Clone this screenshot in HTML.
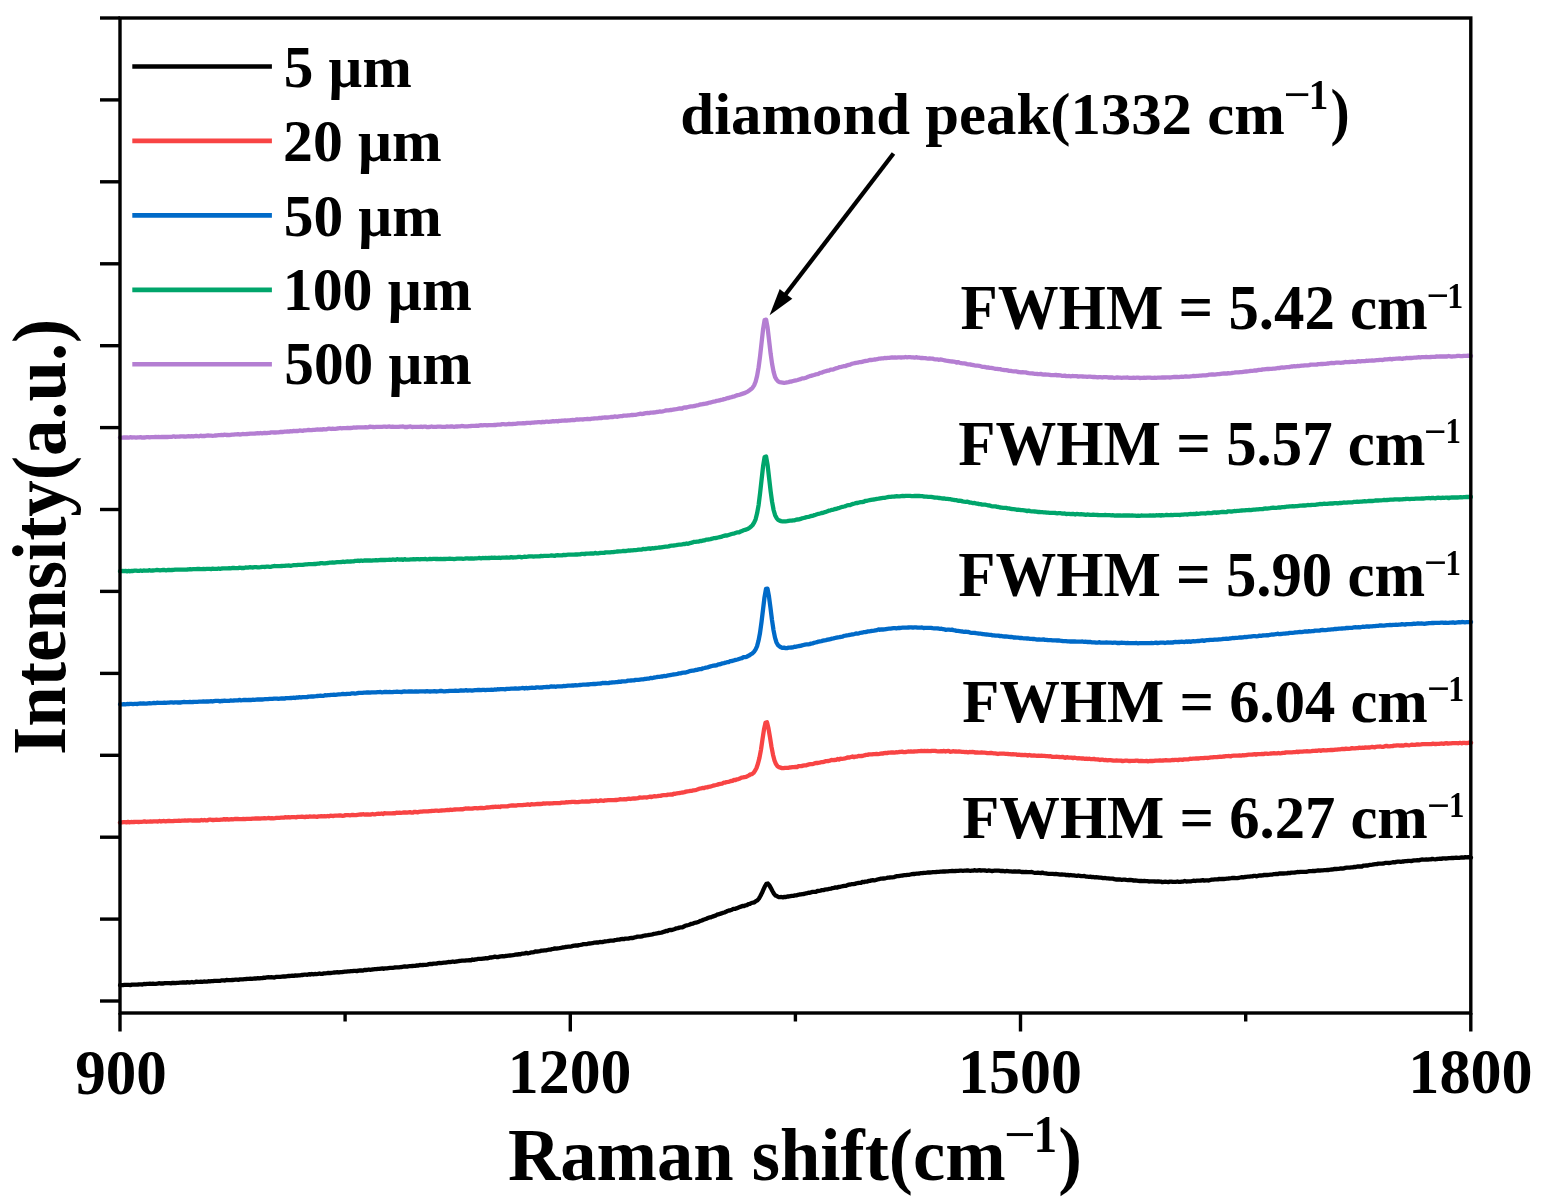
<!DOCTYPE html>
<html><head><meta charset="utf-8"><style>
html,body{margin:0;padding:0;background:#fff;}
svg{display:block;}
text{font-family:"Liberation Serif",serif;font-weight:bold;fill:#000;}
</style></head><body>
<svg width="1543" height="1204" viewBox="0 0 1543 1204">
<rect width="1543" height="1204" fill="#fff"/>
<g fill="none" stroke-width="4.3" stroke-linejoin="round" stroke-linecap="round">
<path d="M120.0,985.2 L121.4,985.2 L122.9,985.1 L124.4,984.9 L125.9,984.9 L127.4,984.8 L128.9,984.9 L130.4,985.1 L131.9,984.7 L133.4,984.6 L134.9,984.7 L136.4,984.6 L137.9,984.5 L139.4,984.3 L140.9,984.4 L142.4,984.5 L143.9,984.0 L145.4,984.1 L146.9,983.8 L148.4,983.9 L149.9,983.7 L151.4,983.9 L152.9,983.7 L154.4,983.9 L155.9,983.8 L157.4,983.7 L158.9,983.2 L160.4,983.5 L161.9,983.5 L163.4,983.5 L164.9,983.1 L166.4,983.2 L167.9,983.1 L169.4,983.1 L170.9,983.3 L172.4,982.9 L173.9,983.0 L175.4,983.1 L176.9,982.8 L178.4,982.8 L179.9,982.7 L181.4,982.7 L182.9,982.4 L184.4,982.5 L185.9,982.7 L187.4,982.1 L188.9,982.5 L190.4,982.3 L191.9,982.0 L193.4,982.4 L194.9,982.1 L196.4,981.7 L197.9,981.9 L199.4,981.9 L200.9,981.7 L202.4,981.8 L203.9,981.5 L205.4,981.6 L206.9,981.7 L208.4,981.2 L209.9,981.3 L211.4,981.1 L212.9,981.1 L214.4,980.8 L215.9,980.8 L217.4,980.8 L218.9,980.9 L220.4,980.8 L221.9,980.3 L223.4,980.3 L224.9,980.5 L226.4,979.9 L227.9,980.1 L229.4,980.1 L230.9,980.2 L232.4,980.0 L233.9,979.8 L235.4,979.7 L236.9,979.6 L238.4,979.8 L239.9,979.4 L241.4,979.3 L242.9,979.3 L244.4,979.1 L245.9,979.0 L247.4,978.8 L248.9,978.9 L250.4,978.7 L251.9,978.9 L253.4,978.7 L254.9,978.5 L256.4,978.5 L257.9,978.2 L259.4,978.4 L260.9,978.1 L262.4,978.1 L263.9,977.6 L265.4,977.8 L266.9,977.3 L268.4,977.2 L269.9,977.4 L271.4,977.2 L272.9,977.3 L274.4,977.5 L275.9,976.9 L277.4,976.8 L278.9,976.8 L280.4,976.8 L281.9,976.6 L283.4,976.4 L284.9,976.5 L286.4,976.4 L287.9,976.0 L289.4,976.0 L290.9,975.9 L292.4,975.6 L293.9,975.8 L295.4,975.4 L296.9,975.7 L298.4,975.4 L299.9,975.3 L301.4,975.0 L302.9,975.0 L304.4,974.6 L305.9,974.6 L307.4,974.8 L308.9,974.2 L310.4,974.6 L311.9,974.0 L313.4,974.4 L314.9,974.0 L316.4,974.2 L317.9,973.9 L319.4,973.5 L320.9,973.9 L322.4,973.8 L323.9,973.4 L325.4,973.3 L326.9,973.2 L328.4,972.9 L329.9,973.2 L331.4,972.8 L332.9,972.7 L334.4,972.5 L335.9,972.4 L337.4,972.2 L338.9,972.5 L340.4,972.1 L341.9,972.2 L343.4,971.9 L344.9,971.7 L346.4,971.6 L347.9,971.4 L349.4,971.4 L350.9,971.2 L352.4,971.1 L353.9,970.8 L355.4,970.8 L356.9,971.1 L358.4,970.6 L359.9,970.4 L361.4,970.5 L362.9,970.6 L364.4,969.9 L365.9,970.0 L367.4,969.8 L368.9,969.5 L370.4,969.8 L371.9,969.5 L373.4,969.4 L374.9,969.2 L376.4,969.2 L377.9,968.9 L379.4,968.9 L380.9,968.6 L382.4,968.4 L383.9,968.8 L385.4,968.3 L386.9,968.3 L388.4,968.1 L389.9,967.9 L391.4,967.8 L392.9,967.8 L394.4,967.5 L395.9,967.4 L397.4,967.3 L398.9,967.4 L400.4,967.2 L401.9,967.0 L403.4,966.7 L404.9,966.4 L406.4,966.6 L407.9,966.5 L409.4,966.2 L410.9,966.1 L412.4,966.0 L413.9,965.9 L415.4,965.8 L416.9,965.4 L418.4,965.6 L419.9,965.0 L421.4,965.2 L422.9,965.0 L424.4,964.9 L425.9,964.9 L427.4,964.7 L428.9,964.1 L430.4,963.8 L431.9,964.1 L433.4,963.7 L434.9,963.7 L436.4,963.7 L437.9,963.1 L439.4,962.9 L440.9,963.1 L442.4,962.9 L443.9,962.7 L445.4,962.6 L446.9,962.3 L448.4,962.0 L449.9,962.1 L451.4,961.8 L452.9,961.5 L454.4,961.8 L455.9,961.5 L457.4,961.4 L458.9,961.0 L460.4,960.9 L461.9,960.7 L463.4,960.6 L464.9,960.6 L466.4,960.3 L467.9,960.3 L469.4,960.1 L470.9,960.3 L472.4,959.5 L473.9,959.8 L475.4,959.4 L476.9,959.3 L478.4,958.8 L479.9,958.9 L481.4,958.9 L482.9,958.6 L484.4,958.5 L485.9,958.2 L487.4,958.3 L488.9,957.9 L490.4,957.4 L491.9,957.5 L493.4,957.1 L494.9,956.7 L496.4,957.0 L497.9,957.1 L499.4,956.7 L500.9,956.3 L502.4,956.2 L503.9,956.4 L505.4,956.0 L506.9,955.8 L508.4,955.6 L509.9,955.5 L511.4,955.4 L512.9,955.2 L514.4,954.9 L515.9,954.5 L517.4,954.6 L518.9,954.1 L520.4,954.3 L521.9,953.6 L523.4,953.6 L524.9,953.4 L526.4,952.9 L527.9,953.3 L529.4,953.0 L530.9,952.4 L532.4,952.4 L533.9,952.1 L535.4,951.3 L536.9,951.6 L538.4,951.3 L539.9,951.1 L541.4,950.7 L542.9,950.6 L544.4,950.4 L545.9,950.4 L547.4,950.0 L548.9,949.7 L550.4,949.7 L551.9,949.1 L553.4,948.9 L554.9,948.4 L556.4,948.7 L557.9,948.4 L559.4,948.2 L560.9,947.9 L562.4,947.5 L563.9,947.3 L565.4,947.0 L566.9,946.8 L568.4,946.6 L569.9,946.6 L571.4,946.3 L572.9,945.9 L574.4,945.6 L575.9,945.4 L577.4,945.6 L578.9,945.1 L580.4,944.9 L581.9,944.6 L583.4,944.2 L584.9,944.2 L586.4,944.2 L587.9,943.7 L589.4,943.5 L590.9,943.3 L592.4,943.2 L593.9,942.7 L595.4,942.7 L596.9,942.4 L598.4,942.5 L599.9,942.0 L601.4,942.1 L602.9,942.0 L604.4,941.5 L605.9,941.3 L607.4,941.2 L608.9,941.0 L610.4,940.6 L611.9,940.7 L613.4,940.7 L614.9,940.1 L616.4,939.9 L617.9,939.6 L619.4,939.6 L620.9,939.2 L622.4,939.0 L623.9,939.2 L625.4,938.6 L626.9,938.7 L628.4,938.6 L629.9,938.2 L631.4,938.0 L632.9,938.0 L634.4,937.4 L635.9,937.1 L637.4,936.7 L638.9,936.7 L640.4,936.7 L641.9,936.4 L643.4,935.8 L644.9,935.5 L646.4,935.3 L647.9,935.2 L649.4,934.8 L650.9,934.6 L652.4,934.3 L653.9,933.9 L655.4,933.7 L656.9,933.4 L658.4,933.0 L659.9,932.8 L661.4,932.7 L662.9,932.1 L664.4,931.7 L665.9,931.0 L667.4,931.0 L668.9,930.2 L670.4,929.9 L671.9,930.0 L673.4,929.5 L674.9,929.0 L676.4,928.3 L677.9,928.1 L679.4,927.6 L680.9,927.4 L682.4,927.3 L683.9,926.5 L685.4,925.8 L686.9,925.3 L688.4,925.0 L689.9,924.5 L691.4,923.8 L692.9,923.6 L694.4,922.8 L695.9,922.7 L697.4,922.2 L698.9,921.7 L700.4,920.9 L701.9,920.5 L703.4,919.8 L704.9,919.3 L706.4,918.7 L707.9,918.0 L709.4,917.4 L710.9,917.3 L712.4,916.6 L713.9,916.1 L715.4,915.7 L716.9,914.7 L718.4,914.3 L719.9,913.9 L721.4,913.4 L722.9,912.8 L724.4,912.5 L725.9,911.8 L727.4,911.0 L728.9,910.5 L730.4,910.3 L731.9,909.8 L733.4,908.8 L734.9,908.9 L736.4,908.3 L737.9,907.9 L739.4,907.1 L740.9,906.7 L742.4,906.0 L743.9,906.2 L745.4,905.3 L746.9,905.1 L748.4,904.2 L749.9,903.9 L751.4,903.0 L752.9,902.7 L754.4,902.3 L755.9,901.1 L757.4,900.3 L758.9,898.6 L760.4,896.0 L761.9,893.1 L763.4,889.6 L764.9,886.3 L766.4,883.8 L767.9,883.5 L769.4,885.4 L770.9,888.1 L772.4,891.0 L773.9,893.6 L775.4,895.5 L776.9,896.1 L778.4,897.0 L779.9,897.1 L781.4,897.0 L782.9,897.3 L784.4,896.9 L785.9,897.1 L787.4,896.5 L788.9,896.5 L790.4,896.1 L791.9,895.8 L793.4,895.8 L794.9,895.4 L796.4,895.3 L797.9,894.9 L799.4,894.5 L800.9,894.4 L802.4,894.1 L803.9,894.0 L805.4,893.4 L806.9,893.3 L808.4,892.7 L809.9,892.8 L811.4,892.2 L812.9,891.8 L814.4,891.9 L815.9,891.8 L817.4,891.0 L818.9,890.8 L820.4,890.6 L821.9,890.2 L823.4,890.2 L824.9,889.6 L826.4,889.4 L827.9,889.3 L829.4,888.8 L830.9,888.7 L832.4,888.1 L833.9,887.8 L835.4,887.4 L836.9,887.7 L838.4,887.0 L839.9,886.8 L841.4,886.5 L842.9,886.2 L844.4,885.9 L845.9,885.9 L847.4,885.1 L848.9,884.7 L850.4,884.5 L851.9,884.2 L853.4,884.2 L854.9,883.9 L856.4,883.3 L857.9,883.0 L859.4,882.9 L860.9,882.9 L862.4,881.8 L863.9,882.2 L865.4,881.6 L866.9,881.7 L868.4,881.0 L869.9,880.9 L871.4,880.4 L872.9,880.2 L874.4,880.4 L875.9,880.0 L877.4,879.5 L878.9,879.2 L880.4,878.7 L881.9,878.7 L883.4,878.5 L884.9,878.3 L886.4,878.0 L887.9,877.6 L889.4,877.5 L890.9,877.3 L892.4,877.3 L893.9,877.2 L895.4,876.6 L896.9,876.2 L898.4,876.1 L899.9,875.8 L901.4,875.6 L902.9,875.5 L904.4,875.1 L905.9,875.2 L907.4,874.9 L908.9,874.8 L910.4,874.5 L911.9,874.2 L913.4,874.0 L914.9,874.0 L916.4,873.7 L917.9,873.7 L919.4,873.5 L920.9,873.1 L922.4,873.2 L923.9,872.8 L925.4,872.8 L926.9,872.7 L928.4,872.3 L929.9,872.5 L931.4,872.4 L932.9,872.2 L934.4,872.1 L935.9,872.0 L937.4,871.8 L938.9,871.8 L940.4,871.6 L941.9,871.6 L943.4,871.3 L944.9,871.5 L946.4,871.4 L947.9,871.3 L949.4,871.1 L950.9,871.2 L952.4,870.8 L953.9,871.1 L955.4,871.0 L956.9,870.9 L958.4,870.9 L959.9,870.7 L961.4,870.7 L962.9,870.8 L964.4,870.7 L965.9,870.7 L967.4,870.3 L968.9,870.7 L970.4,870.8 L971.9,870.7 L973.4,870.6 L974.9,870.2 L976.4,870.7 L977.9,870.5 L979.4,870.1 L980.9,870.6 L982.4,870.3 L983.9,870.3 L985.4,870.5 L986.9,870.8 L988.4,870.5 L989.9,870.7 L991.4,871.0 L992.9,871.0 L994.4,870.7 L995.9,870.7 L997.4,870.6 L998.9,870.7 L1000.4,871.0 L1001.9,871.0 L1003.4,871.0 L1004.9,871.3 L1006.4,871.0 L1007.9,871.2 L1009.4,871.4 L1010.9,871.4 L1012.4,871.6 L1013.9,871.5 L1015.4,871.5 L1016.9,871.7 L1018.4,871.5 L1019.9,871.5 L1021.4,872.0 L1022.9,871.9 L1024.3,872.1 L1025.8,871.8 L1027.3,872.1 L1028.8,872.2 L1030.3,872.2 L1031.8,872.0 L1033.3,872.5 L1034.8,872.8 L1036.3,872.8 L1037.8,872.7 L1039.3,872.9 L1040.8,873.1 L1042.3,872.6 L1043.8,873.2 L1045.3,873.4 L1046.8,873.5 L1048.3,873.8 L1049.8,873.8 L1051.3,873.8 L1052.8,873.9 L1054.3,874.1 L1055.8,873.9 L1057.3,874.1 L1058.8,874.4 L1060.3,874.7 L1061.8,874.4 L1063.3,874.6 L1064.8,874.7 L1066.3,875.1 L1067.8,874.9 L1069.3,875.3 L1070.8,875.0 L1072.3,875.3 L1073.8,875.4 L1075.3,875.7 L1076.8,875.9 L1078.3,875.5 L1079.8,875.8 L1081.3,876.1 L1082.8,876.1 L1084.3,876.0 L1085.8,876.6 L1087.3,876.7 L1088.8,876.8 L1090.3,876.7 L1091.8,877.1 L1093.3,877.0 L1094.8,877.4 L1096.3,877.2 L1097.8,877.3 L1099.3,877.7 L1100.8,877.6 L1102.3,878.0 L1103.8,878.1 L1105.3,878.0 L1106.8,878.3 L1108.3,878.3 L1109.8,878.7 L1111.3,878.6 L1112.8,878.7 L1114.3,879.1 L1115.8,879.5 L1117.3,879.5 L1118.8,879.3 L1120.3,879.5 L1121.8,879.8 L1123.3,879.7 L1124.8,879.6 L1126.3,879.9 L1127.8,880.1 L1129.3,880.0 L1130.8,880.0 L1132.3,880.1 L1133.8,880.6 L1135.3,880.4 L1136.8,880.6 L1138.3,880.8 L1139.8,881.0 L1141.3,880.9 L1142.8,881.1 L1144.3,880.9 L1145.8,881.1 L1147.3,881.1 L1148.8,881.5 L1150.3,881.4 L1151.8,881.3 L1153.3,881.4 L1154.8,881.5 L1156.3,881.7 L1157.8,881.3 L1159.3,881.5 L1160.8,881.6 L1162.3,882.2 L1163.8,881.9 L1165.3,881.7 L1166.8,881.9 L1168.3,882.1 L1169.8,881.7 L1171.3,881.6 L1172.8,881.9 L1174.3,881.8 L1175.8,881.8 L1177.3,881.5 L1178.8,881.9 L1180.3,881.9 L1181.8,881.6 L1183.3,881.6 L1184.8,881.0 L1186.3,881.5 L1187.8,881.3 L1189.3,881.3 L1190.8,881.3 L1192.3,881.0 L1193.8,880.7 L1195.3,881.0 L1196.8,880.7 L1198.3,880.7 L1199.8,880.6 L1201.3,880.5 L1202.8,880.1 L1204.3,880.6 L1205.8,880.4 L1207.3,880.4 L1208.8,880.5 L1210.3,880.0 L1211.8,879.6 L1213.3,879.6 L1214.8,879.4 L1216.3,879.4 L1217.8,879.4 L1219.3,878.9 L1220.8,879.2 L1222.3,878.8 L1223.8,879.0 L1225.3,878.8 L1226.8,878.6 L1228.3,878.5 L1229.8,878.3 L1231.3,878.1 L1232.8,877.8 L1234.3,878.0 L1235.8,878.2 L1237.3,878.1 L1238.8,877.8 L1240.3,877.5 L1241.8,877.2 L1243.3,877.4 L1244.8,877.0 L1246.3,876.8 L1247.8,876.7 L1249.3,876.6 L1250.8,876.3 L1252.3,876.3 L1253.8,875.9 L1255.3,875.9 L1256.8,876.3 L1258.3,875.7 L1259.8,875.5 L1261.3,875.5 L1262.8,875.4 L1264.3,874.9 L1265.8,875.0 L1267.3,875.0 L1268.8,874.8 L1270.3,874.6 L1271.8,874.7 L1273.3,874.2 L1274.8,874.2 L1276.3,873.9 L1277.8,874.2 L1279.3,873.4 L1280.8,873.5 L1282.3,873.4 L1283.8,873.5 L1285.3,873.4 L1286.8,873.4 L1288.3,872.8 L1289.8,873.1 L1291.3,872.7 L1292.8,872.6 L1294.3,872.7 L1295.8,872.3 L1297.3,872.0 L1298.8,872.1 L1300.3,871.8 L1301.8,871.9 L1303.3,871.9 L1304.8,871.8 L1306.3,871.9 L1307.8,871.5 L1309.3,871.1 L1310.8,871.1 L1312.3,871.0 L1313.8,870.8 L1315.3,871.0 L1316.8,870.7 L1318.3,870.3 L1319.8,870.7 L1321.3,870.4 L1322.8,870.3 L1324.3,870.2 L1325.8,870.1 L1327.3,869.9 L1328.8,870.0 L1330.3,869.7 L1331.8,869.5 L1333.3,869.4 L1334.8,868.9 L1336.3,869.0 L1337.8,868.8 L1339.3,868.8 L1340.8,868.3 L1342.3,868.7 L1343.8,868.3 L1345.3,867.9 L1346.8,867.6 L1348.3,867.7 L1349.8,867.6 L1351.3,867.3 L1352.8,867.3 L1354.3,866.9 L1355.8,867.0 L1357.3,866.5 L1358.8,866.5 L1360.3,866.5 L1361.8,866.6 L1363.3,865.7 L1364.8,865.6 L1366.3,865.4 L1367.8,865.5 L1369.3,864.9 L1370.8,864.9 L1372.3,864.7 L1373.8,864.4 L1375.3,864.2 L1376.8,864.1 L1378.3,863.6 L1379.8,863.6 L1381.3,863.6 L1382.8,863.5 L1384.3,863.3 L1385.8,862.8 L1387.3,862.9 L1388.8,863.0 L1390.3,862.8 L1391.8,862.5 L1393.3,862.2 L1394.8,862.3 L1396.3,861.9 L1397.8,861.7 L1399.3,861.6 L1400.8,861.9 L1402.3,861.5 L1403.8,861.5 L1405.3,861.1 L1406.8,861.2 L1408.3,860.8 L1409.8,860.8 L1411.3,861.1 L1412.8,860.7 L1414.3,860.3 L1415.8,860.3 L1417.3,860.2 L1418.8,860.3 L1420.3,859.9 L1421.8,859.5 L1423.3,859.7 L1424.8,859.6 L1426.3,859.5 L1427.8,859.7 L1429.3,859.4 L1430.8,859.4 L1432.3,858.9 L1433.8,859.2 L1435.3,859.3 L1436.8,859.0 L1438.3,858.8 L1439.8,858.7 L1441.3,858.9 L1442.8,858.4 L1444.3,858.4 L1445.8,858.5 L1447.3,858.4 L1448.8,858.1 L1450.3,858.2 L1451.8,858.0 L1453.3,858.0 L1454.8,857.9 L1456.3,857.6 L1457.8,857.8 L1459.3,857.9 L1460.8,857.5 L1462.3,857.5 L1463.8,857.6 L1465.3,857.2 L1466.8,857.4 L1468.3,857.1 L1469.8,857.4 L1471.0,857.6" stroke="#000000"/>
<path d="M120.0,822.7 L120.5,822.3 L122.0,822.4 L123.5,822.2 L125.0,822.2 L126.5,822.4 L128.0,821.9 L129.5,822.3 L131.0,822.0 L132.5,822.2 L134.0,822.0 L135.5,821.8 L137.0,821.9 L138.5,822.0 L140.0,821.8 L141.5,821.8 L143.0,821.6 L144.5,821.3 L146.0,821.8 L147.5,821.7 L149.0,821.6 L150.5,821.5 L152.0,821.7 L153.5,821.4 L155.0,821.3 L156.5,821.3 L158.0,821.5 L159.5,821.0 L161.0,821.5 L162.5,821.1 L164.0,821.0 L165.5,821.4 L167.0,821.1 L168.5,820.8 L170.0,821.0 L171.5,821.1 L173.0,821.2 L174.5,820.8 L176.0,820.9 L177.5,820.9 L179.0,820.7 L180.5,820.8 L182.0,820.7 L183.5,820.6 L185.0,820.5 L186.5,820.6 L188.0,820.5 L189.5,820.4 L191.0,820.4 L192.5,820.6 L194.0,820.4 L195.5,820.5 L197.0,820.5 L198.5,820.4 L200.0,820.6 L201.5,820.0 L203.0,820.3 L204.5,820.0 L206.0,820.4 L207.5,820.3 L209.0,819.6 L210.5,819.7 L212.0,820.0 L213.5,820.0 L215.0,819.9 L216.5,819.7 L218.0,819.8 L219.5,819.8 L221.0,819.6 L222.5,819.7 L224.0,819.1 L225.5,819.6 L227.0,819.2 L228.5,819.6 L230.0,819.3 L231.5,819.1 L233.0,819.3 L234.5,819.0 L236.0,819.0 L237.5,818.8 L239.0,819.1 L240.5,819.1 L242.0,819.2 L243.5,818.9 L245.0,819.1 L246.5,818.8 L248.0,818.8 L249.5,818.8 L251.0,818.9 L252.5,818.6 L254.0,818.6 L255.5,818.5 L257.0,818.5 L258.5,818.3 L260.0,818.6 L261.5,818.3 L263.0,818.4 L264.5,818.1 L266.0,818.3 L267.5,818.2 L269.0,818.0 L270.5,818.4 L272.0,818.1 L273.5,818.3 L275.0,818.1 L276.5,817.8 L278.0,817.8 L279.5,817.8 L281.0,817.7 L282.5,817.7 L284.0,817.6 L285.5,817.2 L287.0,817.5 L288.5,817.1 L290.0,817.5 L291.5,817.2 L293.0,817.2 L294.5,817.2 L296.0,817.3 L297.5,816.9 L299.0,816.8 L300.5,816.9 L302.0,816.6 L303.5,816.8 L305.0,817.2 L306.5,816.6 L308.0,816.9 L309.5,816.5 L311.0,816.7 L312.5,816.6 L314.0,816.5 L315.5,816.6 L317.0,816.8 L318.5,816.4 L320.0,816.4 L321.5,816.1 L323.0,816.3 L324.5,816.1 L326.0,816.3 L327.5,816.0 L329.0,816.3 L330.5,815.6 L332.0,815.8 L333.5,816.0 L335.0,815.7 L336.5,815.6 L338.0,815.6 L339.5,815.3 L341.0,815.5 L342.5,815.9 L344.0,815.6 L345.5,815.1 L347.0,815.1 L348.5,815.2 L350.0,815.3 L351.5,815.0 L353.0,814.9 L354.5,815.1 L356.0,815.1 L357.5,814.8 L359.0,814.6 L360.5,814.4 L362.0,814.5 L363.5,814.2 L365.0,814.7 L366.5,814.3 L368.0,814.5 L369.5,814.7 L371.0,814.5 L372.5,814.0 L374.0,814.3 L375.5,814.3 L377.0,813.8 L378.5,813.7 L380.0,813.8 L381.5,813.5 L383.0,814.0 L384.5,813.2 L386.0,813.3 L387.5,813.4 L389.0,813.4 L390.5,813.4 L392.0,813.3 L393.5,813.1 L395.0,813.3 L396.5,812.6 L398.0,812.9 L399.5,812.7 L401.0,812.8 L402.5,812.7 L404.0,812.5 L405.5,812.4 L407.0,812.6 L408.5,812.4 L410.0,812.2 L411.5,812.6 L413.0,812.5 L414.5,811.8 L416.0,812.0 L417.5,812.3 L419.0,811.9 L420.5,811.7 L422.0,811.6 L423.5,811.4 L425.0,811.4 L426.5,811.3 L428.0,811.4 L429.5,811.1 L431.0,811.0 L432.5,810.8 L434.0,810.9 L435.5,810.7 L437.0,810.7 L438.5,810.8 L440.0,810.6 L441.5,810.5 L443.0,810.4 L444.5,810.3 L446.0,810.1 L447.5,810.0 L449.0,810.1 L450.5,809.7 L452.0,810.0 L453.5,809.7 L455.0,809.5 L456.5,809.4 L458.0,809.3 L459.5,809.3 L461.0,809.1 L462.5,809.3 L464.0,808.9 L465.5,808.5 L467.0,808.7 L468.5,808.4 L470.0,808.6 L471.5,808.7 L473.0,808.5 L474.5,808.1 L476.0,808.1 L477.5,808.4 L479.0,808.1 L480.5,807.9 L482.0,808.0 L483.5,808.2 L485.0,807.9 L486.5,807.5 L488.0,807.5 L489.5,807.4 L491.0,807.1 L492.5,806.9 L494.0,807.0 L495.5,806.7 L497.0,806.8 L498.5,806.7 L500.0,807.0 L501.5,806.3 L503.0,806.4 L504.5,806.3 L506.0,806.3 L507.5,806.3 L509.0,805.9 L510.5,805.7 L512.0,805.5 L513.5,805.5 L515.0,805.7 L516.5,805.5 L518.0,805.2 L519.5,805.2 L521.0,805.2 L522.5,805.2 L524.0,804.9 L525.5,804.9 L527.0,804.5 L528.5,804.5 L530.0,804.9 L531.5,804.1 L533.0,804.4 L534.5,804.4 L536.0,804.2 L537.5,804.0 L539.0,804.0 L540.5,804.0 L542.0,803.8 L543.5,803.4 L545.0,803.7 L546.5,803.4 L548.0,803.4 L549.5,803.5 L551.0,803.4 L552.5,803.4 L554.0,803.1 L555.5,803.2 L557.0,803.2 L558.5,803.1 L560.0,803.1 L561.5,802.7 L563.0,802.6 L564.5,802.7 L566.0,802.2 L567.5,802.4 L569.0,802.2 L570.5,802.2 L572.0,801.9 L573.5,801.9 L575.0,802.0 L576.5,802.1 L578.0,802.1 L579.5,801.8 L581.0,801.7 L582.5,801.5 L584.0,801.6 L585.5,801.5 L587.0,801.5 L588.5,801.7 L590.0,801.3 L591.5,800.9 L593.0,801.0 L594.5,800.8 L596.0,800.7 L597.5,801.1 L599.0,800.8 L600.5,800.4 L602.0,800.7 L603.5,800.8 L605.0,800.4 L606.5,800.3 L608.0,800.2 L609.5,800.2 L611.0,800.2 L612.5,800.2 L614.0,800.1 L615.5,800.0 L617.0,800.0 L618.5,799.7 L620.0,799.2 L621.5,799.4 L623.0,799.4 L624.5,799.1 L626.0,799.3 L627.5,798.9 L629.0,798.7 L630.5,799.0 L632.0,798.7 L633.5,798.5 L635.0,798.5 L636.5,798.4 L638.0,798.2 L639.5,797.5 L641.0,797.7 L642.5,797.6 L644.0,797.4 L645.5,797.4 L647.0,797.5 L648.5,797.0 L650.0,796.7 L651.5,797.1 L653.0,796.5 L654.5,796.2 L656.0,796.3 L657.5,796.2 L659.0,795.8 L660.5,795.9 L662.0,795.4 L663.5,795.2 L665.0,795.2 L666.5,795.1 L668.0,794.6 L669.5,794.6 L671.0,794.3 L672.5,794.6 L674.0,793.7 L675.5,793.8 L677.0,793.3 L678.5,793.1 L680.0,793.0 L681.5,792.7 L683.0,792.5 L684.5,792.1 L686.0,791.6 L687.5,791.3 L689.0,791.2 L690.5,790.9 L692.0,790.8 L693.5,790.3 L695.0,790.1 L696.5,789.8 L698.0,789.3 L699.5,788.6 L701.0,788.4 L702.5,788.0 L704.0,788.2 L705.5,787.4 L707.0,787.4 L708.5,786.9 L710.0,786.7 L711.5,786.2 L713.0,785.7 L714.5,785.3 L716.0,785.0 L717.5,784.6 L719.0,784.1 L720.5,783.8 L722.0,783.7 L723.5,782.7 L725.0,782.7 L726.5,782.1 L728.0,781.9 L729.5,781.6 L731.0,781.0 L732.5,780.8 L734.0,779.9 L735.5,780.0 L737.0,779.3 L738.5,779.1 L740.0,778.5 L741.5,777.6 L743.0,777.4 L744.5,777.1 L746.0,776.9 L747.5,776.1 L749.0,775.4 L750.5,774.4 L752.0,774.1 L753.5,772.9 L755.0,770.8 L756.5,768.0 L758.0,763.5 L759.5,757.6 L761.0,749.6 L762.5,739.2 L764.0,729.5 L765.5,722.8 L767.0,722.2 L768.5,728.6 L770.0,737.3 L771.5,746.9 L773.0,754.7 L774.5,760.5 L776.0,764.1 L777.5,766.2 L779.0,767.2 L780.5,767.6 L782.0,768.1 L783.5,768.1 L785.0,767.9 L786.5,767.9 L788.0,767.9 L789.5,767.5 L791.0,767.4 L792.5,767.1 L794.0,767.2 L795.5,767.0 L797.0,767.1 L798.5,766.2 L800.0,766.1 L801.5,766.1 L803.0,765.6 L804.5,765.3 L806.0,765.4 L807.5,764.8 L809.0,764.4 L810.5,764.1 L812.0,764.1 L813.5,763.8 L815.0,763.2 L816.5,763.0 L818.0,763.0 L819.5,762.7 L821.0,762.2 L822.5,762.2 L824.0,761.9 L825.5,761.2 L827.0,761.2 L828.5,761.0 L830.0,760.6 L831.5,760.0 L833.0,760.1 L834.5,760.0 L836.0,759.9 L837.5,759.0 L839.0,759.6 L840.5,758.7 L842.0,758.8 L843.5,758.6 L845.0,758.3 L846.5,757.9 L848.0,757.4 L849.5,757.5 L851.0,757.0 L852.5,756.5 L854.0,757.2 L855.5,756.6 L857.0,756.6 L858.5,755.9 L860.0,756.2 L861.5,756.0 L863.0,755.8 L864.5,755.3 L866.0,754.9 L867.5,754.9 L869.0,754.4 L870.5,754.3 L872.0,754.4 L873.5,754.1 L875.0,754.1 L876.5,753.9 L878.0,754.1 L879.5,753.9 L881.0,753.5 L882.5,753.6 L884.0,753.1 L885.5,753.0 L887.0,753.1 L888.5,752.6 L890.0,752.7 L891.5,752.4 L893.0,752.5 L894.5,752.7 L896.0,752.2 L897.5,752.3 L899.0,752.0 L900.5,751.8 L902.0,751.7 L903.5,752.1 L905.0,752.2 L906.5,751.8 L908.0,751.5 L909.5,751.7 L911.0,751.5 L912.5,751.6 L914.0,751.5 L915.5,751.4 L917.0,751.4 L918.5,751.2 L920.0,751.2 L921.5,750.9 L923.0,751.1 L924.5,750.9 L926.0,751.1 L927.5,750.9 L929.0,751.1 L930.5,751.2 L932.0,750.8 L933.5,750.9 L935.0,750.9 L936.5,751.2 L938.0,751.4 L939.5,751.3 L941.0,751.1 L942.5,751.4 L944.0,750.9 L945.5,751.5 L947.0,751.1 L948.5,750.8 L950.0,751.8 L951.5,751.7 L953.0,751.2 L954.5,751.5 L956.0,751.5 L957.5,751.6 L959.0,751.4 L960.5,751.6 L962.0,751.8 L963.5,751.9 L965.0,752.1 L966.5,752.0 L968.0,752.4 L969.5,752.0 L971.0,752.2 L972.5,751.9 L974.0,752.1 L975.5,752.6 L977.0,752.3 L978.5,752.6 L980.0,752.6 L981.5,752.5 L983.0,752.7 L984.5,752.7 L986.0,752.8 L987.5,753.1 L989.0,753.2 L990.5,753.0 L992.0,753.0 L993.5,753.3 L995.0,753.3 L996.5,753.6 L998.0,754.0 L999.5,753.7 L1001.0,753.7 L1002.5,753.7 L1004.0,753.7 L1005.5,753.8 L1007.0,753.8 L1008.5,754.0 L1010.0,754.1 L1011.5,754.4 L1013.0,754.2 L1014.5,754.4 L1016.0,754.3 L1017.5,754.9 L1019.0,754.7 L1020.5,755.0 L1022.0,754.9 L1023.5,755.2 L1025.0,754.9 L1026.5,755.2 L1028.0,755.6 L1029.5,755.0 L1031.0,755.5 L1032.5,755.7 L1034.0,755.5 L1035.5,755.7 L1037.0,755.9 L1038.5,755.6 L1040.0,755.9 L1041.5,755.7 L1043.0,755.8 L1044.5,755.9 L1046.0,756.1 L1047.5,756.2 L1049.0,756.4 L1050.5,756.1 L1052.0,756.8 L1053.5,756.8 L1055.0,756.8 L1056.5,756.7 L1058.0,756.8 L1059.5,757.0 L1061.0,757.1 L1062.5,756.8 L1064.0,757.4 L1065.5,757.8 L1067.0,757.1 L1068.5,757.7 L1070.0,757.7 L1071.5,757.7 L1073.0,758.1 L1074.5,757.7 L1076.0,758.0 L1077.5,758.4 L1079.0,758.2 L1080.5,758.3 L1082.0,758.5 L1083.5,758.5 L1085.0,758.9 L1086.5,758.6 L1088.0,759.0 L1089.5,758.7 L1091.0,759.2 L1092.5,759.2 L1094.0,758.8 L1095.5,759.4 L1097.0,759.3 L1098.5,759.5 L1100.0,760.0 L1101.5,759.6 L1103.0,759.7 L1104.5,760.2 L1106.0,760.0 L1107.5,760.4 L1109.0,760.2 L1110.5,760.1 L1112.0,760.3 L1113.5,760.6 L1115.0,760.6 L1116.5,760.5 L1118.0,760.6 L1119.5,760.6 L1121.0,760.6 L1122.5,761.1 L1124.0,760.8 L1125.5,760.6 L1127.0,760.7 L1128.5,761.0 L1130.0,761.0 L1131.5,760.9 L1133.0,760.8 L1134.5,760.9 L1136.0,760.6 L1137.5,760.7 L1139.0,761.1 L1140.5,760.9 L1142.0,761.0 L1143.5,761.2 L1145.0,761.1 L1146.5,760.9 L1148.0,761.3 L1149.5,761.0 L1151.0,760.8 L1152.5,761.0 L1154.0,760.9 L1155.5,760.6 L1157.0,760.7 L1158.5,760.7 L1160.0,760.3 L1161.5,760.6 L1163.0,760.5 L1164.5,760.4 L1166.0,760.1 L1167.5,760.3 L1169.0,760.3 L1170.5,760.3 L1172.0,760.0 L1173.5,760.2 L1175.0,759.8 L1176.5,759.9 L1178.0,760.1 L1179.5,759.6 L1181.0,759.6 L1182.5,759.8 L1184.0,759.4 L1185.5,759.3 L1187.0,759.3 L1188.5,759.4 L1190.0,758.7 L1191.5,758.8 L1193.0,758.7 L1194.5,758.6 L1196.0,758.5 L1197.5,758.4 L1199.0,758.5 L1200.5,758.2 L1202.0,758.2 L1203.5,758.2 L1205.0,757.8 L1206.5,757.9 L1208.0,758.0 L1209.5,757.7 L1211.0,757.4 L1212.5,757.4 L1214.0,757.1 L1215.5,757.2 L1217.0,757.2 L1218.5,756.8 L1220.0,756.7 L1221.5,756.9 L1223.0,756.5 L1224.5,756.5 L1226.0,756.1 L1227.5,756.1 L1229.0,756.0 L1230.5,756.4 L1232.0,755.8 L1233.5,755.7 L1235.0,755.6 L1236.5,755.6 L1238.0,755.6 L1239.5,755.4 L1241.0,755.7 L1242.5,755.2 L1244.0,755.4 L1245.5,755.1 L1247.0,755.0 L1248.5,754.6 L1250.0,754.7 L1251.5,754.7 L1253.0,754.5 L1254.5,754.1 L1256.0,754.6 L1257.5,754.2 L1259.0,754.2 L1260.5,754.1 L1262.0,754.0 L1263.5,754.1 L1265.0,753.7 L1266.5,753.6 L1268.0,753.8 L1269.5,753.7 L1271.0,753.5 L1272.5,753.4 L1274.0,753.2 L1275.5,753.3 L1277.0,753.4 L1278.5,753.0 L1280.0,753.3 L1281.5,753.1 L1283.0,752.8 L1284.5,752.9 L1286.0,752.4 L1287.5,752.3 L1289.0,752.3 L1290.5,752.4 L1292.0,752.3 L1293.5,752.2 L1295.0,752.2 L1296.5,751.7 L1298.0,752.1 L1299.5,751.6 L1301.0,751.7 L1302.5,751.6 L1304.0,751.4 L1305.5,751.3 L1307.0,751.2 L1308.5,751.3 L1310.0,751.3 L1311.5,751.2 L1313.0,750.9 L1314.5,750.8 L1316.0,750.7 L1317.5,750.8 L1319.0,750.3 L1320.5,750.8 L1322.0,750.4 L1323.5,750.2 L1325.0,750.3 L1326.5,750.4 L1328.0,750.1 L1329.5,750.2 L1331.0,749.9 L1332.5,750.0 L1334.0,749.9 L1335.5,749.6 L1337.0,749.7 L1338.5,749.4 L1340.0,749.3 L1341.5,749.0 L1343.0,749.0 L1344.5,749.1 L1346.0,748.6 L1347.5,748.9 L1349.0,748.8 L1350.5,748.6 L1352.0,748.1 L1353.5,748.4 L1355.0,748.4 L1356.5,748.1 L1358.0,748.1 L1359.5,747.6 L1361.0,748.0 L1362.5,747.7 L1364.0,747.9 L1365.5,747.3 L1367.0,747.6 L1368.5,747.4 L1370.0,747.5 L1371.5,747.0 L1373.0,747.0 L1374.5,747.4 L1376.0,746.8 L1377.5,746.7 L1379.0,746.7 L1380.5,746.5 L1382.0,746.8 L1383.5,746.8 L1385.0,746.2 L1386.5,745.9 L1388.0,746.4 L1389.5,746.3 L1391.0,746.1 L1392.5,746.1 L1394.0,745.6 L1395.5,745.7 L1397.0,745.4 L1398.5,745.3 L1400.0,745.6 L1401.5,745.3 L1403.0,745.7 L1404.5,745.2 L1406.0,745.0 L1407.5,745.2 L1409.0,745.3 L1410.5,745.0 L1412.0,744.6 L1413.5,744.8 L1415.0,744.9 L1416.5,744.5 L1418.0,744.4 L1419.5,744.6 L1421.0,744.4 L1422.5,744.1 L1424.0,744.2 L1425.5,744.1 L1427.0,744.2 L1428.5,744.1 L1430.0,744.2 L1431.5,744.1 L1433.0,743.7 L1434.5,744.0 L1436.0,744.0 L1437.5,743.9 L1439.0,743.9 L1440.5,743.6 L1442.0,743.5 L1443.5,743.8 L1445.0,743.4 L1446.5,743.1 L1448.0,743.7 L1449.5,743.3 L1451.0,743.3 L1452.5,743.1 L1454.0,743.1 L1455.5,743.1 L1457.0,743.2 L1458.5,743.3 L1460.0,742.8 L1461.5,743.3 L1463.0,742.9 L1464.5,742.9 L1466.0,743.2 L1467.5,743.0 L1469.0,742.7 L1470.5,743.3 L1471.0,742.8" stroke="#F84444"/>
<path d="M120.0,704.3 L121.0,704.3 L122.5,704.4 L124.0,704.1 L125.5,704.3 L127.0,704.0 L128.5,704.2 L130.0,703.8 L131.5,703.9 L133.0,704.1 L134.5,703.9 L136.0,703.8 L137.5,704.0 L139.0,703.7 L140.5,703.5 L142.0,703.7 L143.5,703.3 L145.0,703.6 L146.5,703.6 L148.0,703.3 L149.5,703.2 L151.0,703.3 L152.5,703.2 L154.0,703.0 L155.5,703.2 L157.0,702.7 L158.5,702.9 L160.0,702.9 L161.5,702.9 L163.0,702.9 L164.5,702.6 L166.0,702.8 L167.5,702.7 L169.0,702.6 L170.5,702.4 L172.0,702.4 L173.5,702.6 L175.0,702.3 L176.5,702.4 L178.0,702.5 L179.5,702.4 L181.0,702.5 L182.5,702.1 L184.0,702.0 L185.5,702.2 L187.0,702.1 L188.5,702.2 L190.0,701.9 L191.5,702.1 L193.0,702.0 L194.5,701.9 L196.0,701.8 L197.5,701.8 L199.0,701.7 L200.5,701.6 L202.0,701.7 L203.5,701.4 L205.0,701.7 L206.5,701.4 L208.0,701.5 L209.5,701.3 L211.0,701.2 L212.5,701.5 L214.0,701.1 L215.5,700.9 L217.0,700.9 L218.5,700.9 L220.0,701.3 L221.5,700.9 L223.0,701.0 L224.5,700.6 L226.0,700.8 L227.5,700.8 L229.0,700.9 L230.5,700.5 L232.0,700.6 L233.5,700.5 L235.0,700.3 L236.5,700.4 L238.0,700.3 L239.5,699.9 L241.0,700.3 L242.5,700.2 L244.0,700.0 L245.5,699.8 L247.0,700.2 L248.5,700.0 L250.0,700.0 L251.5,700.0 L253.0,699.7 L254.5,699.8 L256.0,699.6 L257.5,699.5 L259.0,699.5 L260.5,699.4 L262.0,699.5 L263.5,699.3 L265.0,699.2 L266.5,699.1 L268.0,699.1 L269.5,698.9 L271.0,698.9 L272.5,698.9 L274.0,698.7 L275.5,698.7 L277.0,698.6 L278.5,698.9 L280.0,698.7 L281.5,698.5 L283.0,698.3 L284.5,698.6 L286.0,698.2 L287.5,698.1 L289.0,698.1 L290.5,698.0 L292.0,698.0 L293.5,697.7 L295.0,698.0 L296.5,697.4 L298.0,697.6 L299.5,697.2 L301.0,697.5 L302.5,697.1 L304.0,697.1 L305.5,697.1 L307.0,697.1 L308.5,696.6 L310.0,696.6 L311.5,696.3 L313.0,696.5 L314.5,696.3 L316.0,696.2 L317.5,696.0 L319.0,695.9 L320.5,695.7 L322.0,695.8 L323.5,695.9 L325.0,695.2 L326.5,695.4 L328.0,695.2 L329.5,695.2 L331.0,694.9 L332.5,694.9 L334.0,694.7 L335.5,694.8 L337.0,694.6 L338.5,694.4 L340.0,694.4 L341.5,694.2 L343.0,693.9 L344.5,694.1 L346.0,694.0 L347.5,693.8 L349.0,693.9 L350.5,693.8 L352.0,693.3 L353.5,693.3 L355.0,693.6 L356.5,693.4 L358.0,693.0 L359.5,692.9 L361.0,692.9 L362.5,692.8 L364.0,692.6 L365.5,692.7 L367.0,692.5 L368.5,692.4 L370.0,692.7 L371.5,692.4 L373.0,692.4 L374.5,692.4 L376.0,692.4 L377.5,692.2 L379.0,692.2 L380.5,692.0 L382.0,692.4 L383.5,692.2 L385.0,691.9 L386.5,692.0 L388.0,692.1 L389.5,692.0 L391.0,692.2 L392.5,692.1 L394.0,691.8 L395.5,691.8 L397.0,691.6 L398.5,691.8 L400.0,691.8 L401.5,692.1 L403.0,691.7 L404.5,691.4 L406.0,691.6 L407.5,691.7 L409.0,691.4 L410.5,691.5 L412.0,691.5 L413.5,691.6 L415.0,691.5 L416.5,691.4 L418.0,691.7 L419.5,691.4 L421.0,691.4 L422.5,691.3 L424.0,691.3 L425.5,691.5 L427.0,691.2 L428.5,691.4 L430.0,691.5 L431.5,691.3 L433.0,691.4 L434.5,691.1 L436.0,691.5 L437.5,691.4 L439.0,691.2 L440.5,690.9 L442.0,691.0 L443.5,691.3 L445.0,691.3 L446.5,691.1 L448.0,691.2 L449.5,690.9 L451.0,690.9 L452.5,690.9 L454.0,690.9 L455.5,690.6 L457.0,690.9 L458.5,690.9 L460.0,690.5 L461.5,690.5 L463.0,690.7 L464.5,690.5 L466.0,690.2 L467.5,690.6 L469.0,690.4 L470.5,690.3 L472.0,690.6 L473.5,690.3 L475.0,690.1 L476.5,690.2 L478.0,690.0 L479.5,690.0 L481.0,690.1 L482.5,689.9 L484.0,689.8 L485.5,690.1 L487.0,689.9 L488.5,689.9 L490.0,689.8 L491.5,689.7 L493.0,689.8 L494.5,689.5 L496.0,689.7 L497.5,689.2 L499.0,689.3 L500.5,689.1 L502.0,689.2 L503.5,689.2 L505.0,689.3 L506.5,688.9 L508.0,688.9 L509.5,688.8 L511.0,688.7 L512.5,688.6 L514.0,688.7 L515.5,688.3 L517.0,688.6 L518.5,688.5 L520.0,688.3 L521.5,688.2 L523.0,688.0 L524.5,688.5 L526.0,687.9 L527.5,688.3 L529.0,688.0 L530.5,687.8 L532.0,687.6 L533.5,687.9 L535.0,687.9 L536.5,687.4 L538.0,687.4 L539.5,687.6 L541.0,687.4 L542.5,687.5 L544.0,687.1 L545.5,687.2 L547.0,686.8 L548.5,687.2 L550.0,686.7 L551.5,686.4 L553.0,686.6 L554.5,686.5 L556.0,686.8 L557.5,686.3 L559.0,686.3 L560.5,686.3 L562.0,686.4 L563.5,686.0 L565.0,686.1 L566.5,685.9 L568.0,685.7 L569.5,685.7 L571.0,685.6 L572.5,685.3 L574.0,685.5 L575.5,685.1 L577.0,685.3 L578.5,685.2 L580.0,685.0 L581.5,684.8 L583.0,684.7 L584.5,684.7 L586.0,684.7 L587.5,684.5 L589.0,684.5 L590.5,684.1 L592.0,684.1 L593.5,683.8 L595.0,684.0 L596.5,683.8 L598.0,683.6 L599.5,683.7 L601.0,683.5 L602.5,682.9 L604.0,683.2 L605.5,682.8 L607.0,683.1 L608.5,683.1 L610.0,682.6 L611.5,682.5 L613.0,682.3 L614.5,682.3 L616.0,682.2 L617.5,682.1 L619.0,681.7 L620.5,681.9 L622.0,681.4 L623.5,681.4 L625.0,681.4 L626.5,681.1 L628.0,680.7 L629.5,680.6 L631.0,680.5 L632.5,680.4 L634.0,680.4 L635.5,679.9 L637.0,679.9 L638.5,679.8 L640.0,679.6 L641.5,679.4 L643.0,679.4 L644.5,679.0 L646.0,678.9 L647.5,678.6 L649.0,678.6 L650.5,677.9 L652.0,678.2 L653.5,677.7 L655.0,677.5 L656.5,677.2 L658.0,676.8 L659.5,676.8 L661.0,676.5 L662.5,676.5 L664.0,676.0 L665.5,676.2 L667.0,675.7 L668.5,675.4 L670.0,675.1 L671.5,674.8 L673.0,674.5 L674.5,674.3 L676.0,674.1 L677.5,673.8 L679.0,673.4 L680.5,673.3 L682.0,672.9 L683.5,672.7 L685.0,672.7 L686.5,672.2 L688.0,671.8 L689.5,671.2 L691.0,670.9 L692.5,670.6 L694.0,670.6 L695.5,670.0 L697.0,669.8 L698.5,669.4 L700.0,669.1 L701.5,669.0 L703.0,668.3 L704.5,668.0 L706.0,667.6 L707.5,667.4 L709.0,666.8 L710.5,666.4 L712.0,666.0 L713.5,665.6 L715.0,665.5 L716.5,665.4 L718.0,664.5 L719.5,664.4 L721.0,663.9 L722.5,663.3 L724.0,663.1 L725.5,662.7 L727.0,662.2 L728.5,662.2 L730.0,661.2 L731.5,661.1 L733.0,660.7 L734.5,660.2 L736.0,659.8 L737.5,659.5 L739.0,659.0 L740.5,658.5 L742.0,658.1 L743.5,657.2 L745.0,657.2 L746.5,656.8 L748.0,656.0 L749.5,655.3 L751.0,654.1 L752.5,653.3 L754.0,651.8 L755.5,649.6 L757.0,646.4 L758.5,640.8 L760.0,633.0 L761.5,622.1 L763.0,609.7 L764.5,597.3 L766.0,588.9 L767.5,588.6 L769.0,596.7 L770.5,608.0 L772.0,620.0 L773.5,630.1 L775.0,637.7 L776.5,642.5 L778.0,645.1 L779.5,646.4 L781.0,647.3 L782.5,647.9 L784.0,647.7 L785.5,648.1 L787.0,648.1 L788.5,647.7 L790.0,647.7 L791.5,647.5 L793.0,647.4 L794.5,646.7 L796.0,646.8 L797.5,646.3 L799.0,646.0 L800.5,645.8 L802.0,645.4 L803.5,645.0 L805.0,644.6 L806.5,644.4 L808.0,644.4 L809.5,644.1 L811.0,643.6 L812.5,643.4 L814.0,642.8 L815.5,642.5 L817.0,642.2 L818.5,641.6 L820.0,641.3 L821.5,641.1 L823.0,640.7 L824.5,640.3 L826.0,640.1 L827.5,639.7 L829.0,639.5 L830.5,639.1 L832.0,638.7 L833.5,638.4 L835.0,638.0 L836.5,637.6 L838.0,637.3 L839.5,637.2 L841.0,636.8 L842.5,636.6 L844.0,635.8 L845.5,635.7 L847.0,635.4 L848.5,635.2 L850.0,634.8 L851.5,634.5 L853.0,634.4 L854.5,634.0 L856.0,633.5 L857.5,633.6 L859.0,633.3 L860.5,632.8 L862.0,632.7 L863.5,632.2 L865.0,632.2 L866.5,631.8 L868.0,631.4 L869.5,631.3 L871.0,631.0 L872.5,630.9 L874.0,630.7 L875.5,630.4 L877.0,630.1 L878.5,629.4 L880.0,629.8 L881.5,629.3 L883.0,629.5 L884.5,629.4 L886.0,629.1 L887.5,628.8 L889.0,628.7 L890.5,628.6 L892.0,628.4 L893.5,628.2 L895.0,628.1 L896.5,628.3 L898.0,628.0 L899.5,628.0 L901.0,627.8 L902.5,627.7 L904.0,627.6 L905.5,627.7 L907.0,627.7 L908.5,627.5 L910.0,627.4 L911.5,627.3 L913.0,627.7 L914.5,627.4 L916.0,627.4 L917.5,627.7 L919.0,627.7 L920.5,627.6 L922.0,627.5 L923.5,628.0 L925.0,627.8 L926.5,627.9 L928.0,627.9 L929.5,627.8 L931.0,627.9 L932.5,628.2 L934.0,628.3 L935.5,628.4 L937.0,628.4 L938.5,628.5 L940.0,628.8 L941.5,628.7 L943.0,629.2 L944.5,629.4 L946.0,629.8 L947.5,629.7 L949.0,629.7 L950.5,629.8 L952.0,629.6 L953.5,630.2 L955.0,630.4 L956.5,630.8 L958.0,630.9 L959.5,631.1 L961.0,631.3 L962.5,631.5 L964.0,631.8 L965.5,631.7 L967.0,631.9 L968.5,632.0 L970.0,632.6 L971.5,632.8 L973.0,632.9 L974.5,632.8 L976.0,633.2 L977.5,633.3 L979.0,633.6 L980.5,633.7 L982.0,634.0 L983.5,634.1 L985.0,634.4 L986.5,634.5 L988.0,634.6 L989.5,634.8 L991.0,634.9 L992.5,635.3 L994.0,635.3 L995.5,635.6 L997.0,635.6 L998.5,635.6 L1000.0,636.1 L1001.5,636.0 L1003.0,636.4 L1004.5,636.5 L1006.0,636.4 L1007.5,636.6 L1009.0,636.9 L1010.5,637.0 L1012.0,637.0 L1013.5,637.5 L1015.0,637.5 L1016.5,637.7 L1018.0,637.7 L1019.5,638.0 L1021.0,637.9 L1022.5,638.2 L1024.0,638.4 L1025.5,638.4 L1027.0,638.5 L1028.5,638.5 L1030.0,638.8 L1031.5,638.9 L1033.0,639.0 L1034.5,639.0 L1036.0,639.3 L1037.5,639.7 L1039.0,639.4 L1040.5,639.6 L1042.0,639.7 L1043.5,639.4 L1045.0,639.9 L1046.5,639.8 L1048.0,640.2 L1049.5,640.1 L1051.0,640.1 L1052.5,640.3 L1054.0,640.4 L1055.5,640.4 L1057.0,640.5 L1058.5,640.4 L1060.0,640.7 L1061.5,640.9 L1063.0,641.2 L1064.5,641.1 L1066.0,641.1 L1067.5,641.3 L1069.0,641.3 L1070.5,641.5 L1072.0,641.5 L1073.5,641.4 L1075.0,641.5 L1076.5,641.6 L1078.0,641.6 L1079.5,641.7 L1081.0,641.6 L1082.5,641.5 L1084.0,641.8 L1085.5,641.6 L1087.0,642.0 L1088.5,642.0 L1090.0,641.8 L1091.5,642.3 L1093.0,642.3 L1094.5,642.3 L1096.0,642.6 L1097.5,642.7 L1099.0,642.2 L1100.5,642.6 L1102.0,642.6 L1103.5,642.6 L1105.0,642.7 L1106.5,642.5 L1108.0,642.6 L1109.5,642.6 L1111.0,642.7 L1112.5,642.8 L1114.0,642.6 L1115.5,642.7 L1117.0,643.0 L1118.5,642.9 L1120.0,643.0 L1121.5,642.7 L1123.0,642.9 L1124.5,642.9 L1126.0,643.1 L1127.5,643.0 L1129.0,643.2 L1130.5,643.1 L1132.0,643.1 L1133.5,643.1 L1135.0,643.2 L1136.5,643.0 L1138.0,643.3 L1139.5,643.2 L1141.0,643.1 L1142.5,643.1 L1144.0,643.2 L1145.5,643.2 L1147.0,643.2 L1148.5,643.1 L1150.0,643.1 L1151.5,643.0 L1153.0,643.1 L1154.5,642.9 L1156.0,642.6 L1157.5,643.1 L1159.0,642.8 L1160.5,642.6 L1162.0,642.7 L1163.5,642.6 L1165.0,643.0 L1166.5,642.7 L1168.0,642.3 L1169.5,642.6 L1171.0,642.4 L1172.5,642.6 L1174.0,642.1 L1175.5,641.9 L1177.0,642.2 L1178.5,642.0 L1180.0,642.0 L1181.5,641.6 L1183.0,641.9 L1184.5,642.0 L1186.0,641.4 L1187.5,641.8 L1189.0,641.4 L1190.5,641.8 L1192.0,641.4 L1193.5,641.2 L1195.0,641.3 L1196.5,641.1 L1198.0,640.9 L1199.5,641.0 L1201.0,640.7 L1202.5,640.4 L1204.0,640.8 L1205.5,640.4 L1207.0,640.2 L1208.5,640.2 L1210.0,639.8 L1211.5,639.8 L1213.0,639.8 L1214.5,639.6 L1216.0,639.6 L1217.5,639.6 L1219.0,639.3 L1220.5,639.3 L1222.0,639.2 L1223.5,638.8 L1225.0,638.9 L1226.5,638.6 L1228.0,638.8 L1229.5,638.5 L1231.0,638.3 L1232.5,638.0 L1234.0,638.1 L1235.5,637.8 L1237.0,637.9 L1238.5,637.7 L1240.0,637.4 L1241.5,637.5 L1243.0,637.4 L1244.5,637.0 L1246.0,637.2 L1247.5,636.8 L1249.0,636.7 L1250.5,636.6 L1252.0,636.3 L1253.5,636.2 L1255.0,636.2 L1256.5,636.3 L1258.0,636.1 L1259.5,635.7 L1261.0,635.9 L1262.5,635.5 L1264.0,635.4 L1265.5,635.3 L1267.0,635.1 L1268.5,635.3 L1270.0,634.8 L1271.5,634.5 L1273.0,634.7 L1274.5,634.3 L1276.0,634.2 L1277.5,633.7 L1279.0,634.1 L1280.5,634.0 L1282.0,633.8 L1283.5,633.7 L1285.0,633.7 L1286.5,633.3 L1288.0,633.3 L1289.5,632.9 L1291.0,632.9 L1292.5,632.9 L1294.0,632.7 L1295.5,632.3 L1297.0,632.4 L1298.5,632.2 L1300.0,632.0 L1301.5,632.1 L1303.0,631.8 L1304.5,631.5 L1306.0,631.4 L1307.5,631.7 L1309.0,631.1 L1310.5,631.3 L1312.0,631.2 L1313.5,631.1 L1315.0,630.7 L1316.5,630.7 L1318.0,630.6 L1319.5,630.6 L1321.0,630.2 L1322.5,630.0 L1324.0,630.2 L1325.5,630.1 L1327.0,629.9 L1328.5,629.6 L1330.0,629.6 L1331.5,629.4 L1333.0,629.4 L1334.5,629.0 L1336.0,629.0 L1337.5,628.9 L1339.0,628.6 L1340.5,628.7 L1342.0,628.5 L1343.5,628.3 L1345.0,628.3 L1346.5,627.9 L1348.0,628.0 L1349.5,627.9 L1351.0,627.8 L1352.5,627.8 L1354.0,627.3 L1355.5,627.2 L1357.0,627.3 L1358.5,627.2 L1360.0,627.4 L1361.5,627.0 L1363.0,626.7 L1364.5,626.8 L1366.0,626.5 L1367.5,626.3 L1369.0,626.8 L1370.5,626.3 L1372.0,626.3 L1373.5,626.1 L1375.0,626.2 L1376.5,625.9 L1378.0,625.9 L1379.5,625.5 L1381.0,625.3 L1382.5,625.7 L1384.0,625.6 L1385.5,625.4 L1387.0,625.2 L1388.5,625.1 L1390.0,624.9 L1391.5,625.2 L1393.0,624.9 L1394.5,624.8 L1396.0,624.7 L1397.5,624.8 L1399.0,624.6 L1400.5,624.6 L1402.0,624.2 L1403.5,624.4 L1405.0,624.6 L1406.5,624.1 L1408.0,624.1 L1409.5,624.2 L1411.0,624.1 L1412.5,624.0 L1414.0,623.6 L1415.5,623.8 L1417.0,623.5 L1418.5,623.5 L1420.0,623.7 L1421.5,623.5 L1423.0,623.6 L1424.5,623.9 L1426.0,623.5 L1427.5,623.4 L1429.0,623.1 L1430.5,623.1 L1432.0,623.0 L1433.5,623.0 L1435.0,622.9 L1436.5,622.9 L1438.0,622.9 L1439.5,622.8 L1441.0,622.7 L1442.5,622.6 L1444.0,622.9 L1445.5,622.7 L1447.0,622.8 L1448.5,622.8 L1450.0,622.6 L1451.5,622.7 L1453.0,622.3 L1454.5,622.8 L1456.0,622.6 L1457.5,622.4 L1459.0,622.2 L1460.5,622.4 L1462.0,622.0 L1463.5,622.1 L1465.0,622.3 L1466.5,622.2 L1468.0,622.1 L1469.5,622.2 L1471.0,621.9" stroke="#006AC8"/>
<path d="M120.0,571.2 L121.1,571.1 L122.6,571.0 L124.1,571.2 L125.6,570.9 L127.1,571.3 L128.6,570.9 L130.1,571.3 L131.6,570.8 L133.1,571.0 L134.6,570.7 L136.1,570.6 L137.6,570.8 L139.1,570.8 L140.6,570.5 L142.1,570.8 L143.6,570.5 L145.1,570.6 L146.6,570.6 L148.1,570.6 L149.6,570.2 L151.1,570.7 L152.6,570.5 L154.1,570.3 L155.6,570.2 L157.1,570.0 L158.6,570.1 L160.1,570.3 L161.6,570.1 L163.1,570.0 L164.6,570.0 L166.1,570.3 L167.6,570.0 L169.1,569.9 L170.6,570.2 L172.1,570.0 L173.6,569.9 L175.1,569.7 L176.6,569.6 L178.1,569.6 L179.6,569.6 L181.1,569.6 L182.6,569.7 L184.1,569.7 L185.6,569.6 L187.1,569.5 L188.6,569.3 L190.1,569.1 L191.6,569.3 L193.1,569.2 L194.6,569.2 L196.1,569.2 L197.6,569.0 L199.1,569.0 L200.6,569.1 L202.1,569.1 L203.6,568.9 L205.1,569.1 L206.6,568.9 L208.1,568.8 L209.6,568.9 L211.1,569.1 L212.6,568.7 L214.1,568.9 L215.6,568.9 L217.1,568.9 L218.6,568.5 L220.1,568.8 L221.6,568.5 L223.1,568.4 L224.6,568.4 L226.1,568.4 L227.6,568.3 L229.1,568.2 L230.6,568.4 L232.1,568.0 L233.6,567.9 L235.1,568.2 L236.6,568.1 L238.1,568.1 L239.6,567.7 L241.1,568.0 L242.6,567.8 L244.1,568.0 L245.6,567.5 L247.1,567.6 L248.6,567.5 L250.1,567.2 L251.6,567.3 L253.1,567.5 L254.6,567.2 L256.1,567.1 L257.6,567.3 L259.1,567.3 L260.6,567.2 L262.1,566.9 L263.6,566.9 L265.1,567.0 L266.6,566.7 L268.1,566.6 L269.6,566.8 L271.1,566.8 L272.6,566.3 L274.1,566.0 L275.6,566.1 L277.1,566.1 L278.6,566.2 L280.1,566.2 L281.6,566.0 L283.1,565.8 L284.6,565.9 L286.1,565.6 L287.6,565.7 L289.1,565.5 L290.6,565.9 L292.1,565.5 L293.6,565.2 L295.1,565.1 L296.6,565.1 L298.1,564.8 L299.6,564.8 L301.1,564.8 L302.6,564.9 L304.1,564.6 L305.6,564.4 L307.1,564.3 L308.6,564.2 L310.1,564.2 L311.6,564.1 L313.1,564.2 L314.6,563.8 L316.1,564.0 L317.6,563.7 L319.1,563.6 L320.6,563.2 L322.1,563.2 L323.6,563.4 L325.1,563.3 L326.6,563.1 L328.1,563.0 L329.6,562.7 L331.1,562.6 L332.6,562.5 L334.1,562.6 L335.6,562.4 L337.1,562.2 L338.6,562.1 L340.1,562.1 L341.6,562.0 L343.1,561.7 L344.6,562.0 L346.1,561.7 L347.6,561.5 L349.1,561.7 L350.6,561.5 L352.1,561.3 L353.6,561.3 L355.1,560.9 L356.6,560.9 L358.1,560.6 L359.6,561.0 L361.1,560.5 L362.6,560.8 L364.1,560.5 L365.6,560.4 L367.1,560.5 L368.6,560.5 L370.1,560.5 L371.6,560.6 L373.1,560.3 L374.6,560.4 L376.1,560.1 L377.6,560.3 L379.1,560.1 L380.6,560.0 L382.1,560.0 L383.6,560.0 L385.1,560.0 L386.6,559.9 L388.1,559.8 L389.6,559.7 L391.1,559.9 L392.6,559.5 L394.1,559.6 L395.6,559.9 L397.1,559.2 L398.6,559.5 L400.1,559.7 L401.6,559.3 L403.1,559.9 L404.6,559.1 L406.1,559.7 L407.6,559.7 L409.1,559.6 L410.6,559.4 L412.1,559.4 L413.6,559.2 L415.1,559.4 L416.6,559.1 L418.1,559.2 L419.6,559.4 L421.1,559.1 L422.6,559.2 L424.1,559.2 L425.6,559.0 L427.1,559.3 L428.6,559.2 L430.1,558.9 L431.6,559.1 L433.1,558.9 L434.6,558.9 L436.1,559.0 L437.6,558.9 L439.1,559.1 L440.6,558.8 L442.1,559.1 L443.6,558.9 L445.1,559.0 L446.6,558.8 L448.1,558.8 L449.6,558.6 L451.1,558.9 L452.6,558.9 L454.1,559.1 L455.6,558.9 L457.1,558.7 L458.6,558.6 L460.1,558.7 L461.6,558.6 L463.1,558.8 L464.6,558.7 L466.1,558.4 L467.6,558.4 L469.1,558.7 L470.6,558.5 L472.1,558.4 L473.6,558.6 L475.1,558.3 L476.6,558.3 L478.1,558.2 L479.6,558.0 L481.1,558.4 L482.6,558.0 L484.1,558.1 L485.6,558.0 L487.1,558.2 L488.6,558.0 L490.1,558.0 L491.6,557.7 L493.1,557.9 L494.6,557.7 L496.1,557.9 L497.6,557.9 L499.1,557.7 L500.6,558.0 L502.1,557.7 L503.6,557.7 L505.1,557.6 L506.6,557.5 L508.1,557.6 L509.6,557.6 L511.1,557.2 L512.6,557.5 L514.1,557.3 L515.6,557.4 L517.1,557.2 L518.6,556.9 L520.1,556.9 L521.6,557.3 L523.1,557.0 L524.6,556.7 L526.1,556.9 L527.6,556.7 L529.1,556.4 L530.6,556.3 L532.1,556.3 L533.6,556.6 L535.1,556.4 L536.6,556.4 L538.1,556.4 L539.6,556.4 L541.1,555.9 L542.6,556.1 L544.1,555.9 L545.6,555.8 L547.1,555.8 L548.6,555.8 L550.1,555.7 L551.6,555.5 L553.1,555.6 L554.6,555.9 L556.1,555.3 L557.6,555.2 L559.1,555.4 L560.6,555.4 L562.1,555.3 L563.6,554.9 L565.1,555.2 L566.6,554.8 L568.1,554.7 L569.6,554.7 L571.1,554.7 L572.6,554.7 L574.1,554.6 L575.6,554.5 L577.1,554.5 L578.6,554.3 L580.1,554.3 L581.6,553.9 L583.1,553.8 L584.6,554.1 L586.1,553.6 L587.6,553.7 L589.1,553.6 L590.6,553.5 L592.1,553.4 L593.6,553.6 L595.1,552.9 L596.6,553.3 L598.1,553.4 L599.6,553.0 L601.1,552.9 L602.6,552.9 L604.1,552.9 L605.6,552.4 L607.1,552.4 L608.6,552.3 L610.1,552.3 L611.6,552.1 L613.1,552.1 L614.6,551.8 L616.1,551.7 L617.6,551.5 L619.1,551.4 L620.6,551.3 L622.1,551.2 L623.6,550.9 L625.1,551.2 L626.6,550.8 L628.1,550.5 L629.6,550.7 L631.1,550.3 L632.6,550.4 L634.1,550.2 L635.6,550.1 L637.1,549.9 L638.6,549.6 L640.1,549.6 L641.6,549.7 L643.1,548.9 L644.6,549.1 L646.1,549.0 L647.6,548.6 L649.1,548.4 L650.6,548.8 L652.1,548.2 L653.6,548.4 L655.1,548.0 L656.6,547.8 L658.1,547.7 L659.6,547.5 L661.1,547.4 L662.6,547.1 L664.1,546.9 L665.6,546.7 L667.1,546.6 L668.6,546.4 L670.1,545.9 L671.6,545.7 L673.1,545.7 L674.6,545.3 L676.1,545.1 L677.6,544.8 L679.1,544.7 L680.6,544.6 L682.1,544.4 L683.6,544.0 L685.1,544.1 L686.6,543.5 L688.1,543.8 L689.6,543.2 L691.1,542.8 L692.6,542.4 L694.1,541.8 L695.6,541.9 L697.1,541.7 L698.6,541.7 L700.1,540.9 L701.6,541.1 L703.1,540.5 L704.6,540.4 L706.1,539.6 L707.6,539.7 L709.1,539.3 L710.6,539.1 L712.1,538.7 L713.6,538.2 L715.1,538.2 L716.6,537.8 L718.1,537.5 L719.6,537.2 L721.1,536.9 L722.6,536.3 L724.1,535.8 L725.6,535.4 L727.1,535.5 L728.6,535.0 L730.1,534.5 L731.6,534.0 L733.1,533.7 L734.6,533.3 L736.1,532.8 L737.6,532.3 L739.1,532.3 L740.6,531.5 L742.1,530.9 L743.6,530.3 L745.1,529.8 L746.6,529.4 L748.1,528.7 L749.6,527.7 L751.1,526.6 L752.6,525.0 L754.1,522.6 L755.6,519.3 L757.1,513.3 L758.6,505.1 L760.1,493.1 L761.6,479.5 L763.1,466.2 L764.6,457.0 L766.1,456.5 L767.6,465.0 L769.1,478.0 L770.6,491.0 L772.1,501.9 L773.6,510.0 L775.1,515.2 L776.6,518.1 L778.1,519.8 L779.6,520.6 L781.1,521.1 L782.6,521.4 L784.1,521.3 L785.6,521.3 L787.1,521.1 L788.6,520.8 L790.1,520.6 L791.6,520.7 L793.1,520.4 L794.6,520.3 L796.1,519.7 L797.6,519.5 L799.1,519.3 L800.6,518.9 L802.1,518.3 L803.6,518.0 L805.1,517.7 L806.6,517.1 L808.1,516.9 L809.6,516.6 L811.1,516.0 L812.6,515.9 L814.1,515.2 L815.6,514.8 L817.1,514.3 L818.6,513.8 L820.1,513.5 L821.6,513.0 L823.1,512.8 L824.6,512.2 L826.1,511.8 L827.6,511.2 L829.1,510.6 L830.6,510.3 L832.1,509.8 L833.6,509.6 L835.1,509.0 L836.6,508.8 L838.1,508.2 L839.6,507.8 L841.1,507.3 L842.6,506.8 L844.1,506.5 L845.6,506.1 L847.1,505.4 L848.6,505.2 L850.1,505.1 L851.6,504.3 L853.1,503.9 L854.6,503.5 L856.1,503.0 L857.6,503.0 L859.1,502.5 L860.6,502.1 L862.1,502.0 L863.6,501.8 L865.1,501.0 L866.6,500.9 L868.1,500.5 L869.6,500.2 L871.1,499.9 L872.6,499.6 L874.1,499.5 L875.6,499.1 L877.1,498.8 L878.6,498.7 L880.1,498.4 L881.6,498.1 L883.1,497.9 L884.6,497.9 L886.1,497.5 L887.6,497.2 L889.1,496.9 L890.6,496.9 L892.1,496.6 L893.6,496.6 L895.1,496.5 L896.6,496.1 L898.1,496.3 L899.6,496.3 L901.1,496.1 L902.6,495.9 L904.1,496.2 L905.6,495.9 L907.1,495.8 L908.6,495.8 L910.1,495.9 L911.6,496.1 L913.1,496.1 L914.6,496.0 L916.1,495.9 L917.6,496.0 L919.1,496.0 L920.6,496.2 L922.1,496.1 L923.6,496.5 L925.1,496.6 L926.6,496.6 L928.1,496.8 L929.6,496.8 L931.1,496.8 L932.6,497.1 L934.1,497.5 L935.6,497.7 L937.1,497.6 L938.6,498.0 L940.1,498.0 L941.6,498.4 L943.1,498.5 L944.6,498.5 L946.1,498.9 L947.6,498.9 L949.1,499.1 L950.6,499.2 L952.1,499.7 L953.6,499.8 L955.1,500.1 L956.6,500.2 L958.1,500.8 L959.6,500.7 L961.1,500.9 L962.6,501.4 L964.1,501.7 L965.6,501.8 L967.1,501.7 L968.6,502.1 L970.1,502.6 L971.6,502.7 L973.1,503.2 L974.6,503.0 L976.1,503.6 L977.6,503.6 L979.1,504.1 L980.6,504.2 L982.1,504.6 L983.6,504.6 L985.1,504.7 L986.6,505.0 L988.1,505.3 L989.6,505.5 L991.1,506.1 L992.6,506.3 L994.1,506.4 L995.6,506.4 L997.1,506.8 L998.6,507.0 L1000.1,507.5 L1001.6,507.6 L1003.1,507.8 L1004.6,507.9 L1006.1,507.9 L1007.6,508.3 L1009.1,508.4 L1010.6,508.8 L1012.1,509.0 L1013.6,509.1 L1015.1,509.3 L1016.6,509.8 L1018.1,509.6 L1019.6,509.8 L1021.1,510.1 L1022.6,510.2 L1024.2,510.4 L1025.7,510.7 L1027.2,511.1 L1028.7,510.7 L1030.2,511.1 L1031.7,511.3 L1033.2,511.4 L1034.7,511.5 L1036.2,511.6 L1037.7,512.0 L1039.2,511.9 L1040.7,512.1 L1042.2,512.2 L1043.7,512.3 L1045.2,512.4 L1046.7,512.7 L1048.2,512.6 L1049.7,512.8 L1051.2,512.8 L1052.7,512.8 L1054.2,512.9 L1055.7,513.0 L1057.2,513.3 L1058.7,513.2 L1060.2,513.2 L1061.7,513.5 L1063.2,513.6 L1064.7,513.4 L1066.2,514.0 L1067.7,513.8 L1069.2,513.8 L1070.7,514.1 L1072.2,514.0 L1073.7,514.0 L1075.2,514.5 L1076.7,514.0 L1078.2,514.2 L1079.7,514.4 L1081.2,514.2 L1082.7,514.4 L1084.2,514.5 L1085.7,514.9 L1087.2,514.5 L1088.7,514.6 L1090.2,514.8 L1091.7,514.8 L1093.2,514.6 L1094.7,514.9 L1096.2,514.9 L1097.7,515.0 L1099.2,515.1 L1100.7,515.2 L1102.2,515.1 L1103.7,515.1 L1105.2,515.0 L1106.7,515.1 L1108.2,515.2 L1109.7,515.2 L1111.2,515.3 L1112.7,515.2 L1114.2,515.5 L1115.7,515.7 L1117.2,515.3 L1118.7,515.5 L1120.2,515.4 L1121.7,515.6 L1123.2,515.5 L1124.7,515.5 L1126.2,515.5 L1127.7,515.5 L1129.2,515.4 L1130.7,515.7 L1132.2,515.5 L1133.7,515.7 L1135.2,515.6 L1136.7,515.8 L1138.2,515.6 L1139.7,515.8 L1141.2,515.5 L1142.7,515.7 L1144.2,515.6 L1145.7,515.6 L1147.2,515.6 L1148.7,515.7 L1150.2,515.3 L1151.7,515.6 L1153.2,515.3 L1154.7,515.7 L1156.2,515.2 L1157.7,515.3 L1159.2,515.2 L1160.7,515.6 L1162.2,515.1 L1163.7,515.3 L1165.2,515.2 L1166.7,514.9 L1168.2,515.1 L1169.7,515.2 L1171.2,515.0 L1172.7,515.1 L1174.2,514.9 L1175.7,514.9 L1177.2,514.8 L1178.7,514.8 L1180.2,515.0 L1181.7,514.7 L1183.2,514.6 L1184.7,514.4 L1186.2,514.3 L1187.7,514.5 L1189.2,514.1 L1190.7,514.0 L1192.2,514.1 L1193.7,513.9 L1195.2,514.2 L1196.7,513.5 L1198.2,513.8 L1199.7,513.7 L1201.2,513.4 L1202.7,513.4 L1204.2,513.4 L1205.7,513.5 L1207.2,513.0 L1208.7,512.8 L1210.2,513.1 L1211.7,513.1 L1213.2,512.7 L1214.7,512.3 L1216.2,512.8 L1217.7,512.4 L1219.2,512.5 L1220.7,512.2 L1222.2,512.0 L1223.7,511.9 L1225.2,512.1 L1226.7,512.0 L1228.2,511.3 L1229.7,511.4 L1231.2,511.7 L1232.7,511.3 L1234.2,511.0 L1235.7,511.1 L1237.2,510.9 L1238.7,510.8 L1240.2,510.6 L1241.7,510.5 L1243.2,510.4 L1244.7,510.4 L1246.2,510.1 L1247.7,510.1 L1249.2,510.0 L1250.7,510.1 L1252.2,509.8 L1253.7,509.6 L1255.2,509.6 L1256.7,509.4 L1258.2,509.4 L1259.7,509.2 L1261.2,509.2 L1262.7,509.1 L1264.2,508.7 L1265.7,508.5 L1267.2,508.6 L1268.7,508.4 L1270.2,508.2 L1271.7,507.9 L1273.2,507.7 L1274.7,507.9 L1276.2,507.8 L1277.7,507.7 L1279.2,507.3 L1280.7,507.5 L1282.2,507.1 L1283.7,507.1 L1285.2,507.0 L1286.7,506.7 L1288.2,506.6 L1289.7,506.3 L1291.2,506.3 L1292.7,506.1 L1294.2,506.3 L1295.7,506.1 L1297.2,506.1 L1298.7,505.9 L1300.2,505.7 L1301.7,505.7 L1303.2,505.5 L1304.7,505.5 L1306.2,505.3 L1307.7,505.0 L1309.2,505.1 L1310.7,505.0 L1312.2,504.8 L1313.7,504.9 L1315.2,504.9 L1316.7,504.5 L1318.2,504.4 L1319.7,504.0 L1321.2,504.2 L1322.7,504.0 L1324.2,503.7 L1325.7,503.9 L1327.2,503.9 L1328.7,503.6 L1330.2,503.5 L1331.7,503.4 L1333.2,503.5 L1334.7,503.1 L1336.2,503.1 L1337.7,503.4 L1339.2,503.0 L1340.7,503.0 L1342.2,502.8 L1343.7,502.5 L1345.2,502.6 L1346.7,502.6 L1348.2,502.3 L1349.7,502.4 L1351.2,502.4 L1352.7,502.3 L1354.2,501.8 L1355.7,501.8 L1357.2,501.6 L1358.7,501.9 L1360.2,501.7 L1361.7,501.6 L1363.2,501.3 L1364.7,501.2 L1366.2,501.3 L1367.7,501.2 L1369.2,500.9 L1370.7,501.0 L1372.2,501.0 L1373.7,500.8 L1375.2,500.5 L1376.7,500.3 L1378.2,500.5 L1379.7,500.4 L1381.2,500.3 L1382.7,500.2 L1384.2,500.0 L1385.7,500.2 L1387.2,500.0 L1388.7,499.9 L1390.2,499.7 L1391.7,499.6 L1393.2,499.7 L1394.7,499.4 L1396.2,499.3 L1397.7,499.4 L1399.2,499.5 L1400.7,499.3 L1402.2,499.4 L1403.7,499.1 L1405.2,499.0 L1406.7,498.8 L1408.2,498.9 L1409.7,499.1 L1411.2,498.9 L1412.7,498.9 L1414.2,498.8 L1415.7,498.6 L1417.2,498.6 L1418.7,498.6 L1420.2,498.6 L1421.7,498.5 L1423.2,498.5 L1424.7,498.3 L1426.2,498.2 L1427.7,498.2 L1429.2,498.0 L1430.7,498.3 L1432.2,497.8 L1433.7,498.0 L1435.2,498.3 L1436.7,497.9 L1438.2,497.7 L1439.7,497.9 L1441.2,498.0 L1442.7,497.7 L1444.2,497.8 L1445.7,497.7 L1447.2,497.6 L1448.7,498.1 L1450.2,497.6 L1451.7,497.5 L1453.2,497.4 L1454.7,497.5 L1456.2,497.5 L1457.7,497.5 L1459.2,497.4 L1460.7,497.1 L1462.2,497.3 L1463.7,497.2 L1465.2,497.2 L1466.7,496.9 L1468.2,497.0 L1469.7,497.0 L1471.0,497.0" stroke="#00A56B"/>
<path d="M120.0,437.5 L121.1,437.7 L122.6,437.7 L124.1,437.5 L125.6,437.5 L127.1,437.5 L128.6,437.7 L130.1,437.2 L131.6,437.5 L133.1,437.3 L134.6,437.4 L136.1,437.6 L137.6,437.3 L139.1,437.4 L140.6,437.2 L142.1,437.6 L143.6,437.5 L145.1,437.5 L146.6,437.1 L148.1,437.1 L149.6,437.4 L151.1,437.2 L152.6,437.1 L154.1,437.2 L155.6,436.9 L157.1,437.2 L158.6,437.0 L160.1,437.1 L161.6,436.9 L163.1,437.0 L164.6,436.8 L166.1,437.0 L167.6,437.0 L169.1,436.9 L170.6,436.9 L172.1,436.8 L173.6,436.3 L175.1,436.8 L176.6,436.6 L178.1,436.6 L179.6,436.5 L181.1,436.3 L182.6,436.4 L184.1,436.5 L185.6,436.6 L187.1,436.3 L188.6,436.2 L190.1,436.5 L191.6,436.1 L193.1,436.5 L194.6,436.1 L196.1,436.0 L197.6,436.2 L199.1,436.3 L200.6,435.7 L202.1,436.1 L203.6,435.8 L205.1,436.0 L206.6,435.7 L208.1,435.5 L209.6,435.7 L211.1,435.7 L212.6,435.8 L214.1,435.7 L215.6,435.5 L217.1,435.3 L218.6,435.2 L220.1,435.2 L221.6,435.0 L223.1,435.1 L224.6,434.7 L226.1,435.0 L227.6,434.9 L229.1,435.2 L230.6,434.9 L232.1,434.6 L233.6,434.7 L235.1,434.4 L236.6,434.4 L238.1,434.1 L239.6,434.5 L241.1,434.3 L242.6,434.0 L244.1,434.1 L245.6,434.2 L247.1,434.0 L248.6,433.9 L250.1,433.6 L251.6,433.6 L253.1,433.6 L254.6,433.7 L256.1,433.3 L257.6,433.2 L259.1,433.4 L260.6,433.0 L262.1,433.3 L263.6,433.0 L265.1,433.0 L266.6,433.1 L268.1,432.8 L269.6,432.8 L271.1,432.4 L272.6,432.4 L274.1,432.5 L275.6,432.5 L277.1,432.4 L278.6,432.4 L280.1,432.0 L281.6,431.9 L283.1,432.0 L284.6,431.7 L286.1,431.6 L287.6,431.4 L289.1,431.6 L290.6,431.2 L292.1,431.3 L293.6,430.9 L295.1,431.2 L296.6,430.8 L298.1,431.0 L299.6,430.5 L301.1,430.6 L302.6,430.8 L304.1,430.4 L305.6,430.4 L307.1,430.2 L308.6,429.9 L310.1,430.2 L311.6,430.1 L313.1,429.8 L314.6,429.9 L316.1,429.6 L317.6,429.5 L319.1,429.6 L320.6,429.4 L322.1,429.7 L323.6,429.1 L325.1,429.3 L326.6,429.3 L328.1,428.7 L329.6,428.7 L331.1,429.0 L332.6,428.7 L334.1,428.8 L335.6,428.8 L337.1,428.5 L338.6,428.3 L340.1,428.0 L341.6,428.3 L343.1,428.1 L344.6,428.2 L346.1,428.1 L347.6,427.8 L349.1,428.2 L350.6,428.0 L352.1,427.9 L353.6,427.5 L355.1,427.6 L356.6,427.5 L358.1,427.4 L359.6,427.3 L361.1,427.4 L362.6,427.3 L364.1,427.3 L365.6,427.1 L367.1,427.4 L368.6,427.1 L370.1,426.7 L371.6,426.9 L373.1,427.0 L374.6,427.1 L376.1,426.9 L377.6,426.9 L379.1,426.8 L380.6,426.9 L382.1,426.8 L383.6,426.7 L385.1,426.7 L386.6,426.9 L388.1,426.7 L389.6,426.5 L391.1,426.8 L392.6,426.6 L394.1,426.8 L395.6,426.8 L397.1,426.9 L398.6,426.9 L400.1,426.6 L401.6,426.7 L403.1,426.5 L404.6,427.0 L406.1,426.8 L407.6,427.0 L409.1,426.7 L410.6,426.5 L412.1,427.0 L413.6,426.8 L415.1,426.8 L416.6,426.8 L418.1,426.9 L419.6,426.9 L421.1,426.6 L422.6,427.0 L424.1,426.7 L425.6,426.7 L427.1,427.1 L428.6,427.0 L430.1,426.8 L431.6,426.5 L433.1,426.8 L434.6,426.9 L436.1,426.8 L437.6,426.6 L439.1,426.6 L440.6,426.6 L442.1,426.8 L443.6,426.8 L445.1,426.8 L446.6,426.5 L448.1,426.7 L449.6,426.7 L451.1,426.5 L452.6,426.5 L454.1,426.8 L455.6,426.5 L457.1,426.5 L458.6,426.3 L460.1,426.3 L461.6,426.0 L463.1,426.2 L464.6,426.4 L466.1,426.4 L467.6,426.3 L469.1,426.1 L470.6,426.0 L472.1,425.8 L473.6,425.8 L475.1,425.9 L476.6,425.6 L478.1,425.8 L479.6,425.4 L481.1,425.2 L482.6,425.3 L484.1,425.1 L485.6,425.1 L487.1,425.4 L488.6,425.1 L490.1,425.1 L491.6,425.2 L493.1,425.1 L494.6,424.8 L496.1,425.0 L497.6,424.7 L499.1,424.6 L500.6,424.6 L502.1,424.2 L503.6,424.2 L505.1,424.3 L506.6,424.3 L508.1,424.0 L509.6,424.0 L511.1,424.1 L512.6,424.0 L514.1,423.9 L515.6,423.8 L517.1,423.5 L518.6,423.4 L520.1,423.4 L521.6,423.3 L523.1,423.1 L524.6,423.4 L526.1,423.0 L527.6,422.8 L529.1,422.9 L530.6,423.0 L532.1,422.7 L533.6,422.7 L535.1,422.4 L536.6,422.3 L538.1,422.2 L539.6,422.2 L541.1,422.4 L542.6,421.8 L544.1,422.2 L545.6,421.7 L547.1,421.7 L548.6,421.8 L550.1,421.6 L551.6,421.5 L553.1,421.1 L554.6,421.3 L556.1,421.0 L557.6,421.4 L559.1,420.9 L560.6,420.9 L562.1,420.6 L563.6,420.6 L565.1,420.4 L566.6,420.6 L568.1,420.3 L569.6,420.4 L571.1,420.1 L572.6,420.0 L574.1,420.2 L575.6,419.7 L577.1,419.5 L578.6,419.7 L580.1,419.4 L581.6,419.4 L583.1,419.5 L584.6,419.1 L586.1,419.2 L587.6,418.9 L589.1,419.1 L590.6,419.0 L592.1,418.6 L593.6,418.5 L595.1,418.3 L596.6,418.3 L598.1,418.3 L599.6,417.8 L601.1,418.1 L602.6,417.6 L604.1,417.5 L605.6,417.3 L607.1,417.7 L608.6,417.3 L610.1,417.2 L611.6,416.9 L613.1,417.0 L614.6,416.4 L616.1,416.6 L617.6,416.8 L619.1,416.3 L620.6,416.2 L622.1,416.1 L623.6,415.7 L625.1,415.7 L626.6,415.7 L628.1,415.4 L629.6,415.3 L631.1,415.0 L632.6,415.0 L634.1,414.8 L635.6,414.8 L637.1,414.5 L638.6,414.2 L640.1,413.7 L641.6,414.0 L643.1,413.9 L644.6,413.4 L646.1,413.1 L647.6,413.0 L649.1,413.1 L650.6,412.7 L652.1,412.6 L653.6,412.5 L655.1,412.4 L656.6,412.0 L658.1,411.8 L659.6,411.5 L661.1,411.7 L662.6,411.4 L664.1,411.0 L665.6,410.5 L667.1,410.4 L668.6,410.4 L670.1,410.0 L671.6,410.0 L673.1,409.7 L674.6,409.4 L676.1,409.2 L677.6,408.9 L679.1,408.5 L680.6,408.3 L682.1,408.5 L683.6,407.7 L685.1,407.5 L686.6,407.5 L688.1,407.0 L689.6,406.6 L691.1,406.3 L692.6,406.3 L694.1,406.0 L695.6,405.8 L697.1,405.3 L698.6,405.1 L700.1,404.5 L701.6,404.4 L703.1,404.0 L704.6,403.8 L706.1,403.5 L707.6,403.3 L709.1,402.6 L710.6,402.6 L712.1,402.0 L713.6,401.6 L715.1,401.4 L716.6,400.8 L718.1,400.7 L719.6,400.3 L721.1,399.9 L722.6,399.6 L724.1,399.1 L725.6,398.8 L727.1,398.2 L728.6,398.0 L730.1,397.4 L731.6,397.1 L733.1,396.7 L734.6,396.3 L736.1,395.6 L737.6,395.1 L739.1,394.8 L740.6,394.4 L742.1,393.9 L743.6,393.4 L745.1,392.9 L746.6,392.1 L748.1,391.3 L749.6,390.2 L751.1,389.1 L752.6,387.7 L754.1,385.4 L755.6,381.7 L757.1,375.9 L758.6,367.4 L760.1,356.0 L761.6,342.4 L763.1,329.0 L764.6,320.0 L766.1,319.6 L767.6,327.7 L769.1,340.6 L770.6,353.4 L772.1,364.0 L773.6,371.8 L775.1,377.2 L776.6,379.7 L778.1,381.4 L779.6,382.2 L781.1,382.4 L782.6,382.6 L784.1,382.8 L785.6,382.6 L787.1,382.3 L788.6,382.1 L790.1,381.7 L791.6,381.5 L793.1,381.0 L794.6,380.6 L796.1,380.3 L797.6,380.0 L799.1,379.5 L800.6,379.1 L802.1,378.3 L803.6,378.3 L805.1,378.0 L806.6,377.4 L808.1,376.7 L809.6,376.2 L811.1,375.9 L812.6,375.3 L814.1,375.0 L815.6,374.4 L817.1,374.2 L818.6,373.8 L820.1,372.8 L821.6,372.7 L823.1,372.1 L824.6,371.5 L826.1,371.1 L827.6,370.7 L829.1,370.5 L830.6,369.6 L832.1,369.6 L833.6,369.3 L835.1,368.6 L836.6,368.2 L838.1,367.7 L839.6,367.1 L841.1,366.9 L842.6,366.5 L844.1,366.1 L845.6,366.0 L847.1,365.3 L848.6,364.9 L850.1,364.6 L851.6,363.8 L853.1,363.5 L854.6,363.2 L856.1,362.8 L857.6,362.7 L859.1,362.2 L860.6,362.2 L862.1,361.8 L863.6,361.4 L865.1,361.0 L866.6,360.8 L868.1,360.6 L869.6,360.0 L871.1,360.0 L872.6,359.8 L874.1,359.5 L875.6,359.5 L877.1,359.2 L878.6,358.7 L880.1,358.7 L881.6,358.4 L883.1,358.4 L884.6,358.0 L886.1,358.2 L887.6,357.9 L889.1,357.9 L890.6,357.6 L892.1,357.3 L893.6,357.7 L895.1,357.4 L896.6,357.6 L898.1,357.4 L899.6,357.4 L901.1,357.5 L902.6,357.3 L904.1,357.4 L905.6,357.0 L907.1,357.3 L908.6,357.2 L910.1,357.2 L911.6,357.3 L913.1,357.4 L914.6,357.7 L916.1,357.2 L917.6,357.6 L919.1,357.6 L920.6,358.0 L922.1,357.8 L923.6,358.1 L925.1,358.1 L926.6,358.4 L928.1,358.6 L929.6,358.5 L931.1,358.7 L932.6,358.7 L934.1,359.1 L935.6,359.4 L937.1,359.3 L938.6,359.8 L940.1,359.5 L941.6,359.7 L943.1,360.0 L944.6,360.3 L946.1,360.6 L947.6,360.8 L949.1,361.1 L950.6,361.4 L952.1,361.5 L953.6,361.6 L955.1,361.8 L956.6,362.6 L958.1,362.1 L959.6,362.7 L961.1,363.2 L962.6,363.3 L964.1,363.4 L965.6,363.7 L967.1,364.1 L968.6,364.4 L970.1,364.4 L971.6,364.9 L973.1,365.0 L974.6,365.4 L976.1,365.7 L977.6,365.7 L979.1,365.8 L980.6,366.3 L982.1,366.8 L983.6,366.9 L985.1,367.0 L986.6,367.6 L988.1,367.3 L989.6,367.9 L991.1,367.9 L992.6,368.2 L994.1,368.5 L995.6,368.9 L997.1,368.8 L998.6,369.1 L1000.1,369.1 L1001.6,369.7 L1003.1,369.8 L1004.6,370.1 L1006.1,370.1 L1007.6,370.4 L1009.1,370.8 L1010.6,370.9 L1012.1,371.2 L1013.6,371.4 L1015.1,371.4 L1016.6,371.4 L1018.1,372.0 L1019.6,372.1 L1021.1,372.4 L1022.6,372.1 L1024.2,372.3 L1025.7,372.4 L1027.2,372.8 L1028.7,373.2 L1030.2,373.3 L1031.7,373.4 L1033.2,373.5 L1034.7,373.8 L1036.2,373.8 L1037.7,374.0 L1039.2,374.1 L1040.7,373.9 L1042.2,374.3 L1043.7,374.7 L1045.2,374.5 L1046.7,374.7 L1048.2,374.7 L1049.7,374.9 L1051.2,375.2 L1052.7,375.1 L1054.2,375.1 L1055.7,374.9 L1057.2,375.4 L1058.7,375.2 L1060.2,375.3 L1061.7,375.8 L1063.2,375.9 L1064.7,375.6 L1066.2,376.1 L1067.7,376.1 L1069.2,376.0 L1070.7,376.3 L1072.2,376.0 L1073.7,376.1 L1075.2,376.1 L1076.7,376.2 L1078.2,376.6 L1079.7,376.3 L1081.2,376.4 L1082.7,376.5 L1084.2,376.7 L1085.7,376.7 L1087.2,376.9 L1088.7,376.7 L1090.2,376.7 L1091.7,376.9 L1093.2,377.0 L1094.7,376.9 L1096.2,377.1 L1097.7,377.4 L1099.2,377.1 L1100.7,377.2 L1102.2,377.5 L1103.7,377.2 L1105.2,377.2 L1106.7,377.2 L1108.2,377.5 L1109.7,377.5 L1111.2,377.5 L1112.7,377.5 L1114.2,377.8 L1115.7,377.7 L1117.2,377.4 L1118.7,377.7 L1120.2,377.7 L1121.7,377.8 L1123.2,377.7 L1124.7,377.7 L1126.2,377.7 L1127.7,377.5 L1129.2,377.8 L1130.7,377.8 L1132.2,377.9 L1133.7,377.7 L1135.2,377.8 L1136.7,377.7 L1138.2,377.7 L1139.7,378.0 L1141.2,377.8 L1142.7,377.9 L1144.2,377.7 L1145.7,377.9 L1147.2,377.6 L1148.7,377.7 L1150.2,377.7 L1151.7,377.9 L1153.2,377.8 L1154.7,377.7 L1156.2,377.8 L1157.7,377.7 L1159.2,377.7 L1160.7,377.7 L1162.2,377.5 L1163.7,377.5 L1165.2,377.5 L1166.7,377.3 L1168.2,377.4 L1169.7,377.5 L1171.2,377.4 L1172.7,377.1 L1174.2,376.9 L1175.7,377.0 L1177.2,377.0 L1178.7,377.1 L1180.2,376.8 L1181.7,376.7 L1183.2,376.8 L1184.7,376.5 L1186.2,376.5 L1187.7,376.7 L1189.2,376.6 L1190.7,376.4 L1192.2,376.2 L1193.7,375.9 L1195.2,376.1 L1196.7,375.9 L1198.2,375.8 L1199.7,375.6 L1201.2,375.6 L1202.7,375.4 L1204.2,375.4 L1205.7,375.4 L1207.2,375.2 L1208.7,374.7 L1210.2,374.7 L1211.7,374.5 L1213.2,374.5 L1214.7,374.6 L1216.2,374.4 L1217.7,374.2 L1219.2,374.2 L1220.7,373.9 L1222.2,373.6 L1223.7,373.5 L1225.2,373.4 L1226.7,373.6 L1228.2,373.1 L1229.7,373.3 L1231.2,373.2 L1232.7,372.8 L1234.2,372.7 L1235.7,372.4 L1237.2,372.4 L1238.7,372.3 L1240.2,372.1 L1241.7,372.1 L1243.2,371.9 L1244.7,371.7 L1246.2,371.5 L1247.7,371.3 L1249.2,371.2 L1250.7,370.8 L1252.2,370.9 L1253.7,370.7 L1255.2,370.3 L1256.7,370.6 L1258.2,370.0 L1259.7,369.9 L1261.2,369.9 L1262.7,369.4 L1264.2,369.4 L1265.7,369.1 L1267.2,369.0 L1268.7,369.0 L1270.2,368.9 L1271.7,368.9 L1273.2,368.7 L1274.7,368.6 L1276.2,368.3 L1277.7,368.0 L1279.2,368.1 L1280.7,367.7 L1282.2,367.5 L1283.7,367.7 L1285.2,367.4 L1286.7,367.2 L1288.2,367.1 L1289.7,367.0 L1291.2,366.5 L1292.7,366.5 L1294.2,366.2 L1295.7,366.3 L1297.2,366.0 L1298.7,366.2 L1300.2,365.9 L1301.7,365.6 L1303.2,365.6 L1304.7,365.3 L1306.2,365.3 L1307.7,365.3 L1309.2,365.1 L1310.7,364.6 L1312.2,364.7 L1313.7,364.7 L1315.2,364.6 L1316.7,364.6 L1318.2,364.1 L1319.7,364.2 L1321.2,364.0 L1322.7,364.0 L1324.2,363.9 L1325.7,363.8 L1327.2,363.5 L1328.7,363.5 L1330.2,363.2 L1331.7,363.0 L1333.2,363.2 L1334.7,363.0 L1336.2,362.7 L1337.7,362.7 L1339.2,362.7 L1340.7,362.8 L1342.2,362.6 L1343.7,362.5 L1345.2,362.0 L1346.7,362.1 L1348.2,362.1 L1349.7,362.0 L1351.2,361.9 L1352.7,361.7 L1354.2,361.9 L1355.7,361.8 L1357.2,361.4 L1358.7,361.2 L1360.2,361.5 L1361.7,361.1 L1363.2,361.2 L1364.7,361.2 L1366.2,360.7 L1367.7,360.8 L1369.2,360.6 L1370.7,360.6 L1372.2,360.5 L1373.7,360.6 L1375.2,360.3 L1376.7,360.1 L1378.2,360.2 L1379.7,359.9 L1381.2,359.8 L1382.7,360.0 L1384.2,359.5 L1385.7,359.4 L1387.2,359.4 L1388.7,359.1 L1390.2,358.9 L1391.7,359.3 L1393.2,358.9 L1394.7,358.8 L1396.2,358.7 L1397.7,358.6 L1399.2,358.4 L1400.7,358.5 L1402.2,358.8 L1403.7,358.4 L1405.2,358.3 L1406.7,357.9 L1408.2,358.1 L1409.7,357.8 L1411.2,358.0 L1412.7,357.8 L1414.2,357.7 L1415.7,357.6 L1417.2,357.5 L1418.7,357.2 L1420.2,357.5 L1421.7,357.1 L1423.2,357.1 L1424.7,357.1 L1426.2,357.0 L1427.7,357.1 L1429.2,357.1 L1430.7,357.0 L1432.2,356.9 L1433.7,356.8 L1435.2,356.9 L1436.7,356.4 L1438.2,356.7 L1439.7,356.5 L1441.2,356.4 L1442.7,356.5 L1444.2,356.4 L1445.7,356.5 L1447.2,356.5 L1448.7,356.0 L1450.2,356.3 L1451.7,356.6 L1453.2,356.3 L1454.7,356.4 L1456.2,356.2 L1457.7,355.9 L1459.2,355.9 L1460.7,356.1 L1462.2,356.1 L1463.7,355.8 L1465.2,355.9 L1466.7,355.9 L1468.2,355.6 L1469.7,355.8 L1471.0,356.0" stroke="#B47ED2"/>
</g>
<g stroke="#000" stroke-width="3.4" fill="none">
<rect x="120.0" y="18.0" width="1350.8" height="995.0"/>
<line x1="100" y1="18.0" x2="120.0" y2="18.0"/>
<line x1="100" y1="99.9" x2="120.0" y2="99.9"/>
<line x1="100" y1="181.8" x2="120.0" y2="181.8"/>
<line x1="100" y1="263.8" x2="120.0" y2="263.8"/>
<line x1="100" y1="345.7" x2="120.0" y2="345.7"/>
<line x1="100" y1="427.6" x2="120.0" y2="427.6"/>
<line x1="100" y1="509.5" x2="120.0" y2="509.5"/>
<line x1="100" y1="591.4" x2="120.0" y2="591.4"/>
<line x1="100" y1="673.4" x2="120.0" y2="673.4"/>
<line x1="100" y1="755.3" x2="120.0" y2="755.3"/>
<line x1="100" y1="837.2" x2="120.0" y2="837.2"/>
<line x1="100" y1="919.1" x2="120.0" y2="919.1"/>
<line x1="100" y1="1001.0" x2="120.0" y2="1001.0"/>
<line x1="120.0" y1="1013.0" x2="120.0" y2="1031.5"/>
<line x1="570.3" y1="1013.0" x2="570.3" y2="1031.5"/>
<line x1="1020.5" y1="1013.0" x2="1020.5" y2="1031.5"/>
<line x1="1470.8" y1="1013.0" x2="1470.8" y2="1031.5"/>
<line x1="345.1" y1="1013.0" x2="345.1" y2="1021.5"/>
<line x1="795.4" y1="1013.0" x2="795.4" y2="1021.5"/>
<line x1="1245.7" y1="1013.0" x2="1245.7" y2="1021.5"/>
</g>
<g>
<line x1="132.3" y1="66.5" x2="271.9" y2="66.5" stroke="#000000" stroke-width="4.6"/>
<line x1="132.3" y1="140.9" x2="271.9" y2="140.9" stroke="#F84444" stroke-width="4.6"/>
<line x1="132.3" y1="215.4" x2="271.9" y2="215.4" stroke="#006AC8" stroke-width="4.6"/>
<line x1="132.3" y1="289.9" x2="271.9" y2="289.9" stroke="#00A56B" stroke-width="4.6"/>
<line x1="132.3" y1="364.3" x2="271.9" y2="364.3" stroke="#B47ED2" stroke-width="4.6"/>
</g>
<line x1="893.5" y1="153.5" x2="784.5" y2="295.8" stroke="#000" stroke-width="4.3"/>
<polygon points="769.6,315.3 779.7,289.1 786,293.9 792.3,298.7" fill="#000"/>
<text transform="translate(283.83 86.70) scale(0.9848 1)" font-size="60.15">5 µm</text>
<text transform="translate(283.11 160.80) scale(0.9999 1)" font-size="59.70">20 µm</text>
<text transform="translate(283.72 235.50) scale(0.9885 1)" font-size="60.15">50 µm</text>
<text transform="translate(282.71 309.90) scale(0.9878 1)" font-size="60.61">100 µm</text>
<text transform="translate(284.22 384.30) scale(0.9848 1)" font-size="60.31">500 µm</text>
<text transform="translate(680.37 133.80) scale(1.0280 1)" font-size="59.13">diamond peak(1332 cm</text>
<text transform="translate(1283.46 108.40) scale(1.1989 1)" font-size="40.00">−</text>
<text transform="translate(1308.86 109.20) scale(0.9167 1)" font-size="42.75">1</text>
<text transform="translate(1330.47 132.70) scale(0.9109 1)" font-size="63.33">)</text>
<text transform="translate(960.59 328.60) scale(0.9695 1)" font-size="62.75">FWHM = 5.42 cm</text>
<text transform="translate(1426.62 308.26) scale(1.0653 1)" font-size="37.14">−</text>
<text transform="translate(1447.25 307.80) scale(0.8668 1)" font-size="36.79">1</text>
<text transform="translate(958.29 464.60) scale(0.9627 1)" font-size="63.21">FWHM = 5.57 cm</text>
<text transform="translate(1424.04 443.66) scale(1.0596 1)" font-size="37.14">−</text>
<text transform="translate(1445.54 443.20) scale(0.8409 1)" font-size="36.64">1</text>
<text transform="translate(958.29 595.80) scale(0.9689 1)" font-size="62.75">FWHM = 5.90 cm</text>
<text transform="translate(1423.98 575.16) scale(1.0885 1)" font-size="37.14">−</text>
<text transform="translate(1445.54 575.00) scale(0.8409 1)" font-size="36.64">1</text>
<text transform="translate(962.19 721.80) scale(0.9737 1)" font-size="62.29">FWHM = 6.04 cm</text>
<text transform="translate(1426.98 701.26) scale(1.0885 1)" font-size="37.14">−</text>
<text transform="translate(1448.15 701.10) scale(0.8777 1)" font-size="36.34">1</text>
<text transform="translate(962.19 838.30) scale(0.9737 1)" font-size="62.29">FWHM = 6.27 cm</text>
<text transform="translate(1426.98 817.66) scale(1.0885 1)" font-size="37.14">−</text>
<text transform="translate(1449.04 817.40) scale(0.8409 1)" font-size="36.64">1</text>
<text transform="translate(75.17 1093.66) scale(0.9583 1)" font-size="63.70">900</text>
<text transform="translate(507.86 1093.26) scale(0.9702 1)" font-size="63.70">1200</text>
<text transform="translate(958.04 1093.27) scale(0.9796 1)" font-size="63.26">1500</text>
<text transform="translate(1408.33 1093.27) scale(0.9830 1)" font-size="63.26">1800</text>
<text transform="translate(507.91 1180.40) scale(0.9806 1)" font-size="74.00">Raman shift(cm</text>
<text transform="translate(1004.00 1148.74) scale(1.3147 1)" font-size="42.86">−</text>
<text transform="translate(1033.42 1151.70) scale(0.9085 1)" font-size="52.06">1</text>
<text transform="translate(1058.37 1179.92) scale(0.9349 1)" font-size="76.11">)</text>
<text transform="matrix(0 -0.9686 1 0 65.10 755.05)" font-size="75.08">Intensity(a.u.)</text>
</svg>
</body></html>
